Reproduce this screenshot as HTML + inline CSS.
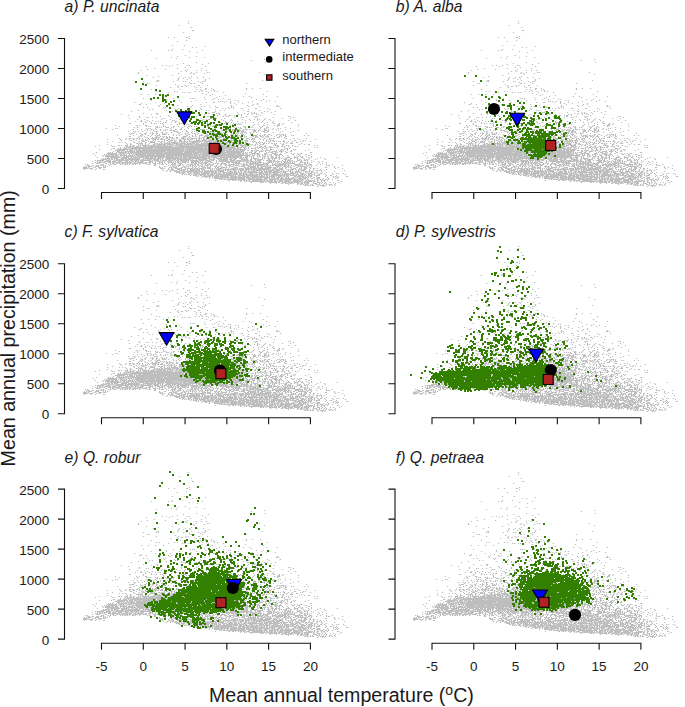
<!DOCTYPE html><html><head><meta charset="utf-8"><style>html,body{margin:0;padding:0;background:#fff;}svg{display:block;}text{font-family:"Liberation Sans", sans-serif;fill:#1a1a1a;}</style></head><body>
<svg width="685" height="707" viewBox="0 0 685 707">
<rect width="685" height="707" fill="#fff"/>
<defs><path id="g" d="M187.88 21.5h1.24m-1.24 2h1.24m-10.24 2h1.24m10.76 2h1.24m-0.24 3h2.24m-11.24 2h1.24m4.76 4h1.24m-22.24 1h1.24m4.76 0h1.24m10.76 0h2.24m0.76 1h1.24m-4.24 2h1.24m-10.24 1h1.24m-6.24 4h1.24m10.76 0h1.24m19.76 1h1.24m-14.24 1h1.24m2.76 0h1.24m-25.24 2h1.24m8.76 0h1.24m-32.24 1h1.24m15.76 0h1.24m1.76 0h1.24m29.76 0h1.24m-14.24 1h1.24m6.76 1h1.24m-13.24 3h1.24m-9.24 1h1.24m17.76 0h1.24m-26.24 1h1.24m16.76 0h1.24m13.76 0h1.24m-49.24 1h1.24m18.76 0h1.24m86.76 1h1.24m-14.24 1h1.24m-56.24 2h1.24m67.76 0h1.24m-83.24 1h1.24m23.76 0h1.24m-32.24 1h1.24m23.76 0h1.24m-41.24 1h1.24m2.76 0h1.24m4.76 0h1.24m13.76 0h1.24m0.76 0h1.24m-44.24 1h1.24m21.76 0h1.24m34.76 0h1.24m-21.24 1h1.24m3.76 0h1.24m-37.24 1h1.24m21.76 0h1.24m22.76 0h1.24m-55.24 1h1.24m16.76 0h1.24m20.76 0h1.24m-47.24 1h1.24m42.76 0h1.24m9.76 0h1.24m3.76 0h1.24m3.76 0h1.24m-26.24 1h1.24m3.76 0h1.24m-49.24 1h1.24m51.76 0h1.24m3.76 0h1.24m9.76 0h1.24m0.76 0h1.24m48.76 0h1.24m-122.24 1h1.24m38.76 0h1.24m10.76 0h1.24m1.76 0h1.24m9.76 0h1.24m-11.24 1h1.24m68.76 0h1.24m-119.24 1h1.24m24.76 0h1.24m-15.24 1h1.24m31.76 0h1.24m-39.24 1h1.24m24.76 0h1.24m4.76 0h1.24m2.76 0h1.24m6.76 0h1.24m4.76 0h1.24m-26.24 1h1.24m3.76 0h1.24m5.76 0h1.24m17.76 0h1.24m-32.24 1h1.24m7.76 0h1.24m16.76 0h1.24m-49.24 1h2.24m17.76 0h1.24m12.76 0h1.24m12.76 0h1.24m55.76 0h1.24m-120.24 1h1.24m11.76 0h1.24m0.76 0h1.24m13.76 0h1.24m8.76 0h1.24m0.76 0h1.24m11.76 0h1.24m2.76 0h1.24m0.76 0h1.24m-16.24 1h1.24m9.76 0h1.24m-54.24 1h1.24m0.76 0h1.24m39.76 0h2.24m1.76 0h1.24m6.76 0h1.24m42.76 0h1.24m-72.24 1h1.24m-33.24 1h1.24m11.76 0h1.24m20.76 0h1.24m5.76 0h1.24m1.76 0h1.24m8.76 0h2.24m6.76 0h1.24m-31.24 1h1.24m2.76 0h2.24m2.76 0h1.24m6.76 0h1.24m-25.24 1h1.24m6.76 0h1.24m16.76 0h1.24m2.76 0h1.24m3.76 1h2.24m3.76 0h1.24m33.76 0h1.24m4.76 0h1.24m6.76 0h1.24m-110.24 1h1.24m27.76 0h1.24m14.76 0h1.24m2.76 0h1.24m3.76 0h1.24m6.76 0h1.24m31.76 0h1.24m-46.24 1h1.24m8.76 0h1.24m1.76 0h1.24m-59.24 1h1.24m1.76 0h1.24m13.76 0h1.24m1.76 0h1.24m16.76 0h1.24m2.76 0h1.24m1.76 0h1.24m2.76 0h1.24m6.76 0h1.24m1.76 0h1.24m48.76 0h1.24m-100.24 1h1.24m12.76 0h1.24m0.76 0h1.24m2.76 0h1.24m0.76 0h1.24m16.76 0h1.24m13.76 0h1.24m-22.24 1h1.24m41.76 0h1.24m-105.24 1h1.24m5.76 0h1.24m5.76 0h1.24m6.76 0h1.24m41.76 0h1.24m4.76 0h1.24m49.76 0h1.24m-54.24 1h1.24m13.76 0h1.24m-7.24 1h1.24m22.76 0h1.24m4.76 0h1.24m15.76 0h1.24m9.76 0h1.24m-74.24 1h1.24m10.76 0h1.24m33.76 0h1.24m-109.24 1h1.24m28.76 0h1.24m15.76 0h1.24m0.76 0h1.24m0.76 0h1.24m18.76 0h1.24m7.76 0h1.24m-58.24 1h1.24m37.76 0h1.24m5.76 0h1.24m4.76 0h1.24m8.76 0h1.24m0.76 0h1.24m24.76 0h1.24m5.76 0h1.24m-113.24 1h1.24m13.76 0h1.24m11.76 0h1.24m15.76 0h1.24m37.76 0h1.24m1.76 0h1.24m21.76 0h1.24m6.76 0h1.24m-79.24 1h1.24m25.76 0h1.24m0.76 0h1.24m0.76 0h1.24m2.76 0h1.24m2.76 0h1.24m20.76 0h1.24m12.76 0h1.24m7.76 0h1.24m-142.24 1h1.24m19.76 0h1.24m13.76 0h1.24m9.76 0h1.24m23.76 0h1.24m5.76 0h2.24m8.76 0h1.24m4.76 0h1.24m6.76 0h1.24m8.76 0h1.24m-108.24 1h1.24m21.76 0h1.24m64.76 0h1.24m2.76 0h1.24m6.76 0h1.24m13.76 0h1.24m-119.24 1h2.24m4.76 0h1.24m12.76 0h1.24m6.76 0h1.24m1.76 0h1.24m27.76 0h1.24m34.76 0h1.24m15.76 0h1.24m2.76 0h1.24m-100.24 1h1.24m9.76 0h1.24m6.76 0h1.24m13.76 0h1.24m15.76 0h1.24m20.76 0h1.24m14.76 0h1.24m3.76 0h1.24m23.76 0h1.24m-119.24 1h1.24m26.76 0h1.24m2.76 0h1.24m8.76 0h1.24m1.76 0h1.24m9.76 0h1.24m14.76 0h1.24m0.76 0h1.24m13.76 0h1.24m9.76 0h1.24m15.76 0h2.24m0.76 0h1.24m-137.24 1h1.24m2.76 0h1.24m14.76 0h1.24m0.76 0h1.24m23.76 0h1.24m18.76 0h1.24m4.76 0h2.24m9.76 0h1.24m1.76 0h1.24m-68.24 1h1.24m8.76 0h1.24m2.76 0h1.24m9.76 0h1.24m9.76 0h1.24m20.76 0h1.24m1.76 0h1.24m2.76 0h1.24m2.76 0h1.24m6.76 0h2.24m11.76 0h2.24m9.76 0h1.24m11.76 0h1.24m-132.24 1h1.24m1.76 0h1.24m21.76 0h1.24m0.76 0h1.24m22.76 0h1.24m12.76 0h1.24m31.76 0h1.24m19.76 0h1.24m-132.24 1h1.24m26.76 0h1.24m13.76 0h1.24m4.76 0h1.24m10.76 0h1.24m5.76 0h1.24m0.76 0h1.24m10.76 0h1.24m2.76 0h1.24m17.76 0h1.24m14.76 0h1.24m-129.24 1h1.24m39.76 0h1.24m7.76 0h1.24m0.76 0h1.24m0.76 0h1.24m9.76 0h1.24m17.76 0h1.24m30.76 0h2.24m14.76 0h1.24m1.76 0h1.24m6.76 0h1.24m-91.24 1h1.24m1.76 0h1.24m16.76 0h1.24m4.76 0h3.24m21.76 0h1.24m12.76 0h1.24m1.76 0h1.24m5.76 0h1.24m8.76 0h1.24m-129.24 1h1.24m11.76 0h2.24m18.76 0h1.24m2.76 0h1.24m6.76 0h1.24m3.76 0h1.24m12.76 0h2.24m5.76 0h1.24m0.76 0h2.24m23.76 0h1.24m2.76 0h1.24m2.76 0h1.24m0.76 0h1.24m0.76 0h1.24m4.76 0h1.24m-142.24 1h1.24m28.76 0h1.24m4.76 0h1.24m41.76 0h1.24m2.76 0h1.24m6.76 0h1.24m5.76 0h1.24m4.76 0h1.24m11.76 0h1.24m1.76 0h1.24m4.76 0h1.24m3.76 0h1.24m2.76 0h1.24m0.76 0h1.24m14.76 0h1.24m-147.24 1h1.24m38.76 0h1.24m28.76 0h1.24m17.76 0h1.24m6.76 0h1.24m2.76 0h2.24m2.76 0h1.24m0.76 0h2.24m2.76 0h1.24m17.76 0h1.24m-122.24 1h1.24m19.76 0h1.24m7.76 0h1.24m10.76 0h1.24m13.76 0h1.24m9.76 0h2.24m13.76 0h1.24m1.76 0h1.24m0.76 0h1.24m6.76 0h2.24m7.76 0h1.24m6.76 0h1.24m0.76 0h2.24m29.76 0h1.24m0.76 0h1.24m-152.24 1h1.24m5.76 0h1.24m0.76 0h1.24m2.76 0h1.24m2.76 0h1.24m13.76 0h1.24m8.76 0h1.24m11.76 0h1.24m18.76 0h1.24m18.76 0h1.24m5.76 0h1.24m0.76 0h1.24m10.76 0h1.24m16.76 0h1.24m18.76 0h1.24m-165.24 1h1.24m31.76 0h1.24m0.76 0h1.24m10.76 0h1.24m7.76 0h1.24m2.76 0h1.24m5.76 0h1.24m3.76 0h1.24m7.76 0h2.24m3.76 0h1.24m6.76 0h1.24m31.76 0h1.24m6.76 0h1.24m15.76 0h1.24m6.76 0h1.24m-154.24 1h1.24m5.76 0h1.24m15.76 0h1.24m7.76 0h1.24m7.76 0h1.24m3.76 0h1.24m17.76 0h1.24m1.76 0h1.24m0.76 0h2.24m10.76 0h1.24m8.76 0h1.24m9.76 0h1.24m5.76 0h1.24m3.76 0h1.24m1.76 0h1.24m0.76 0h1.24m3.76 0h1.24m3.76 0h1.24m-129.24 1h1.24m4.76 0h1.24m3.76 0h1.24m12.76 0h1.24m4.76 0h1.24m0.76 0h1.24m8.76 0h1.24m4.76 0h1.24m9.76 0h2.24m11.76 0h1.24m6.76 0h1.24m5.76 0h1.24m0.76 0h1.24m11.76 0h1.24m3.76 0h1.24m5.76 0h1.24m4.76 0h1.24m5.76 0h1.24m16.76 0h1.24m5.76 0h1.24m-161.24 1h1.24m3.76 0h2.24m2.76 0h1.24m2.76 0h1.24m4.76 0h1.24m1.76 0h1.24m0.76 0h1.24m13.76 0h2.24m22.76 0h1.24m0.76 0h2.24m1.76 0h1.24m17.76 0h1.24m10.76 0h1.24m23.76 0h1.24m9.76 0h1.24m-129.24 1h1.24m4.76 0h1.24m10.76 0h1.24m0.76 0h2.24m3.76 0h1.24m2.76 0h1.24m2.76 0h1.24m4.76 0h1.24m13.76 0h1.24m0.76 0h1.24m3.76 0h1.24m3.76 0h1.24m5.76 0h2.24m3.76 0h4.24m1.76 0h1.24m9.76 0h1.24m1.76 0h1.24m6.76 0h1.24m3.76 0h1.24m1.76 0h1.24m4.76 0h1.24m3.76 0h1.24m17.76 0h1.24m-163.24 1h2.24m11.76 0h1.24m6.76 0h1.24m1.76 0h1.24m0.76 0h1.24m2.76 0h1.24m0.76 0h1.24m15.76 0h1.24m0.76 0h1.24m0.76 0h3.24m3.76 0h2.24m1.76 0h1.24m2.76 0h1.24m1.76 0h1.24m4.76 0h1.24m0.76 0h1.24m13.76 0h1.24m0.76 0h1.24m5.76 0h1.24m0.76 0h1.24m1.76 0h1.24m0.76 0h1.24m22.76 0h1.24m7.76 0h2.24m3.76 0h1.24m2.76 0h1.24m-141.24 1h1.24m18.76 0h1.24m6.76 0h1.24m4.76 0h1.24m0.76 0h1.24m5.76 0h1.24m0.76 0h1.24m7.76 0h2.24m3.76 0h1.24m10.76 0h1.24m1.76 0h1.24m2.76 0h1.24m2.76 0h1.24m4.76 0h1.24m3.76 0h1.24m0.76 0h1.24m0.76 0h1.24m11.76 0h1.24m2.76 0h1.24m7.76 0h1.24m9.76 0h2.24m1.76 0h1.24m14.76 0h1.24m-184.24 1h1.24m19.76 0h1.24m1.76 0h1.24m4.76 0h2.24m15.76 0h1.24m25.76 0h1.24m11.76 0h1.24m0.76 0h1.24m3.76 0h1.24m2.76 0h1.24m1.76 0h4.24m8.76 0h1.24m1.76 0h1.24m18.76 0h1.24m8.76 0h2.24m8.76 0h1.24m1.76 0h3.24m-161.24 1h1.24m16.76 0h1.24m7.76 0h1.24m0.76 0h1.24m0.76 0h1.24m3.76 0h1.24m0.76 0h1.24m4.76 0h1.24m0.76 0h1.24m6.76 0h2.24m2.76 0h1.24m4.76 0h1.24m2.76 0h2.24m0.76 0h1.24m1.76 0h1.24m0.76 0h1.24m7.76 0h1.24m0.76 0h2.24m2.76 0h2.24m14.76 0h1.24m12.76 0h1.24m0.76 0h1.24m5.76 0h1.24m5.76 0h1.24m1.76 0h1.24m3.76 0h1.24m8.76 0h1.24m19.76 0h1.24m-165.24 1h1.24m1.76 0h1.24m17.76 0h2.24m0.76 0h1.24m0.76 0h1.24m3.76 0h3.24m1.76 0h1.24m0.76 0h1.24m7.76 0h1.24m3.76 0h1.24m8.76 0h1.24m5.76 0h1.24m2.76 0h1.24m6.76 0h1.24m5.76 0h1.24m3.76 0h1.24m4.76 0h1.24m0.76 0h1.24m0.76 0h1.24m0.76 0h1.24m2.76 0h2.24m2.76 0h1.24m0.76 0h1.24m7.76 0h2.24m3.76 0h1.24m0.76 0h1.24m15.76 0h1.24m-180.24 1h1.24m7.76 0h1.24m0.76 0h1.24m27.76 0h1.24m0.76 0h1.24m0.76 0h1.24m3.76 0h1.24m13.76 0h1.24m9.76 0h1.24m5.76 0h1.24m6.76 0h1.24m10.76 0h1.24m1.76 0h1.24m2.76 0h1.24m3.76 0h2.24m0.76 0h1.24m0.76 0h2.24m0.76 0h1.24m0.76 0h1.24m8.76 0h2.24m2.76 0h1.24m13.76 0h1.24m2.76 0h1.24m0.76 0h1.24m5.76 0h1.24m3.76 0h1.24m0.76 0h1.24m8.76 0h1.24m-179.24 1h1.24m19.76 0h1.24m2.76 0h1.24m2.76 0h1.24m4.76 0h1.24m2.76 0h1.24m0.76 0h1.24m1.76 0h1.24m2.76 0h1.24m3.76 0h1.24m0.76 0h1.24m2.76 0h1.24m2.76 0h2.24m2.76 0h2.24m1.76 0h1.24m6.76 0h3.24m4.76 0h5.24m0.76 0h1.24m4.76 0h2.24m6.76 0h1.24m1.76 0h1.24m0.76 0h3.24m2.76 0h1.24m0.76 0h1.24m1.76 0h3.24m2.76 0h1.24m0.76 0h3.24m0.76 0h1.24m1.76 0h1.24m0.76 0h1.24m3.76 0h1.24m3.76 0h2.24m1.76 0h1.24m2.76 0h1.24m2.76 0h1.24m7.76 0h1.24m-142.24 1h1.24m1.76 0h1.24m1.76 0h1.24m1.76 0h1.24m5.76 0h1.24m1.76 0h1.24m0.76 0h1.24m3.76 0h2.24m0.76 0h2.24m10.76 0h1.24m8.76 0h2.24m3.76 0h1.24m0.76 0h1.24m11.76 0h1.24m3.76 0h1.24m1.76 0h2.24m0.76 0h1.24m2.76 0h2.24m1.76 0h2.24m0.76 0h2.24m0.76 0h2.24m8.76 0h3.24m1.76 0h1.24m0.76 0h1.24m2.76 0h3.24m0.76 0h1.24m8.76 0h1.24m18.76 0h1.24m-171.24 1h1.24m3.76 0h1.24m0.76 0h1.24m1.76 0h1.24m2.76 0h1.24m10.76 0h1.24m0.76 0h2.24m15.76 0h4.24m3.76 0h1.24m2.76 0h2.24m3.76 0h1.24m0.76 0h1.24m0.76 0h1.24m5.76 0h1.24m1.76 0h1.24m0.76 0h1.24m0.76 0h2.24m5.76 0h1.24m1.76 0h1.24m3.76 0h2.24m1.76 0h3.24m4.76 0h2.24m0.76 0h3.24m0.76 0h1.24m6.76 0h3.24m1.76 0h1.24m2.76 0h3.24m1.76 0h2.24m12.76 0h1.24m9.76 0h1.24m-160.24 1h1.24m10.76 0h1.24m4.76 0h1.24m2.76 0h1.24m3.76 0h2.24m2.76 0h1.24m3.76 0h1.24m4.76 0h2.24m0.76 0h1.24m6.76 0h1.24m1.76 0h1.24m4.76 0h1.24m4.76 0h3.24m1.76 0h3.24m0.76 0h3.24m2.76 0h3.24m1.76 0h2.24m0.76 0h1.24m5.76 0h3.24m0.76 0h2.24m1.76 0h2.24m0.76 0h2.24m3.76 0h1.24m1.76 0h1.24m1.76 0h1.24m6.76 0h1.24m0.76 0h1.24m5.76 0h1.24m5.76 0h1.24m8.76 0h1.24m-162.24 1h1.24m0.76 0h3.24m5.76 0h1.24m2.76 0h2.24m3.76 0h1.24m0.76 0h2.24m1.76 0h2.24m3.76 0h1.24m0.76 0h1.24m0.76 0h1.24m11.76 0h1.24m4.76 0h1.24m0.76 0h1.24m3.76 0h1.24m0.76 0h2.24m1.76 0h1.24m3.76 0h1.24m1.76 0h1.24m1.76 0h1.24m0.76 0h4.24m0.76 0h2.24m0.76 0h4.24m0.76 0h1.24m5.76 0h1.24m1.76 0h1.24m0.76 0h1.24m0.76 0h1.24m0.76 0h1.24m0.76 0h1.24m2.76 0h1.24m2.76 0h1.24m0.76 0h1.24m6.76 0h1.24m44.76 0h1.24m-177.24 1h1.24m4.76 0h1.24m3.76 0h2.24m1.76 0h1.24m5.76 0h1.24m2.76 0h1.24m1.76 0h1.24m1.76 0h4.24m1.76 0h1.24m3.76 0h1.24m3.76 0h1.24m1.76 0h1.24m2.76 0h1.24m1.76 0h2.24m4.76 0h1.24m0.76 0h1.24m2.76 0h1.24m4.76 0h1.24m0.76 0h1.24m0.76 0h1.24m0.76 0h1.24m0.76 0h2.24m1.76 0h1.24m0.76 0h2.24m1.76 0h3.24m2.76 0h3.24m0.76 0h1.24m0.76 0h1.24m2.76 0h3.24m6.76 0h1.24m4.76 0h1.24m5.76 0h2.24m1.76 0h2.24m6.76 0h1.24m0.76 0h1.24m0.76 0h3.24m0.76 0h1.24m-169.24 1h1.24m14.76 0h1.24m5.76 0h1.24m0.76 0h1.24m4.76 0h1.24m1.76 0h1.24m2.76 0h1.24m0.76 0h3.24m12.76 0h1.24m1.76 0h1.24m1.76 0h1.24m5.76 0h2.24m3.76 0h1.24m1.76 0h1.24m2.76 0h4.24m1.76 0h4.24m1.76 0h2.24m0.76 0h3.24m1.76 0h1.24m0.76 0h2.24m0.76 0h1.24m1.76 0h1.24m1.76 0h1.24m1.76 0h1.24m0.76 0h3.24m0.76 0h1.24m1.76 0h1.24m0.76 0h1.24m5.76 0h1.24m0.76 0h4.24m1.76 0h2.24m0.76 0h1.24m0.76 0h1.24m1.76 0h1.24m2.76 0h1.24m3.76 0h1.24m2.76 0h1.24m1.76 0h1.24m0.76 0h1.24m4.76 0h1.24m0.76 0h1.24m9.76 0h1.24m2.76 0h1.24m-180.24 1h2.24m7.76 0h1.24m0.76 0h1.24m1.76 0h1.24m4.76 0h1.24m4.76 0h2.24m1.76 0h1.24m0.76 0h1.24m0.76 0h1.24m0.76 0h1.24m1.76 0h1.24m12.76 0h4.24m1.76 0h1.24m1.76 0h2.24m1.76 0h1.24m1.76 0h1.24m3.76 0h4.24m0.76 0h3.24m0.76 0h1.24m0.76 0h2.24m0.76 0h4.24m0.76 0h2.24m2.76 0h1.24m1.76 0h7.24m1.76 0h1.24m2.76 0h1.24m0.76 0h1.24m4.76 0h2.24m0.76 0h3.24m1.76 0h2.24m0.76 0h1.24m1.76 0h3.24m4.76 0h1.24m3.76 0h1.24m0.76 0h1.24m2.76 0h2.24m-149.24 1h1.24m5.76 0h1.24m0.76 0h1.24m3.76 0h1.24m1.76 0h2.24m0.76 0h2.24m2.76 0h1.24m1.76 0h2.24m0.76 0h4.24m2.76 0h2.24m3.76 0h3.24m2.76 0h1.24m0.76 0h1.24m3.76 0h1.24m2.76 0h1.24m1.76 0h3.24m1.76 0h7.24m0.76 0h2.24m0.76 0h4.24m0.76 0h1.24m0.76 0h1.24m1.76 0h4.24m0.76 0h1.24m0.76 0h1.24m3.76 0h2.24m2.76 0h1.24m3.76 0h1.24m3.76 0h1.24m0.76 0h1.24m3.76 0h1.24m1.76 0h1.24m1.76 0h1.24m7.76 0h3.24m3.76 0h1.24m-166.24 1h1.24m5.76 0h1.24m1.76 0h2.24m0.76 0h2.24m1.76 0h2.24m0.76 0h1.24m1.76 0h1.24m4.76 0h1.24m1.76 0h6.24m0.76 0h1.24m1.76 0h2.24m2.76 0h2.24m0.76 0h1.24m1.76 0h2.24m1.76 0h2.24m2.76 0h3.24m0.76 0h1.24m0.76 0h1.24m0.76 0h1.24m0.76 0h4.24m0.76 0h1.24m0.76 0h2.24m0.76 0h1.24m0.76 0h1.24m1.76 0h1.24m0.76 0h2.24m1.76 0h1.24m1.76 0h1.24m1.76 0h2.24m2.76 0h6.24m0.76 0h2.24m2.76 0h4.24m2.76 0h2.24m1.76 0h3.24m2.76 0h3.24m3.76 0h1.24m3.76 0h1.24m3.76 0h1.24m0.76 0h1.24m0.76 0h2.24m9.76 0h2.24m6.76 0h1.24m1.76 0h1.24m7.76 0h1.24m-200.24 1h1.24m11.76 0h1.24m3.76 0h1.24m2.76 0h1.24m2.76 0h2.24m3.76 0h1.24m1.76 0h1.24m1.76 0h1.24m0.76 0h1.24m0.76 0h1.24m1.76 0h1.24m0.76 0h2.24m0.76 0h2.24m0.76 0h3.24m0.76 0h1.24m2.76 0h2.24m0.76 0h1.24m1.76 0h1.24m3.76 0h2.24m1.76 0h3.24m0.76 0h2.24m0.76 0h3.24m2.76 0h1.24m1.76 0h1.24m2.76 0h2.24m0.76 0h1.24m1.76 0h1.24m0.76 0h4.24m0.76 0h2.24m1.76 0h3.24m0.76 0h1.24m0.76 0h2.24m2.76 0h1.24m0.76 0h1.24m0.76 0h2.24m1.76 0h1.24m0.76 0h1.24m3.76 0h1.24m1.76 0h1.24m0.76 0h2.24m0.76 0h1.24m4.76 0h1.24m1.76 0h1.24m1.76 0h1.24m1.76 0h2.24m18.76 0h1.24m7.76 0h1.24m14.76 0h1.24m-195.24 1h1.24m7.76 0h2.24m3.76 0h1.24m3.76 0h1.24m0.76 0h1.24m0.76 0h2.24m5.76 0h1.24m0.76 0h1.24m7.76 0h1.24m0.76 0h2.24m1.76 0h3.24m0.76 0h1.24m0.76 0h1.24m1.76 0h3.24m1.76 0h1.24m2.76 0h2.24m3.76 0h1.24m0.76 0h4.24m0.76 0h6.24m0.76 0h6.24m0.76 0h2.24m0.76 0h6.24m0.76 0h2.24m2.76 0h4.24m1.76 0h2.24m0.76 0h4.24m0.76 0h4.24m4.76 0h1.24m8.76 0h1.24m1.76 0h1.24m2.76 0h1.24m0.76 0h2.24m8.76 0h1.24m9.76 0h2.24m6.76 0h1.24m0.76 0h1.24m-194.24 1h1.24m19.76 0h1.24m4.76 0h1.24m1.76 0h3.24m2.76 0h1.24m0.76 0h3.24m0.76 0h1.24m2.76 0h2.24m0.76 0h2.24m0.76 0h1.24m2.76 0h2.24m0.76 0h1.24m1.76 0h2.24m2.76 0h4.24m0.76 0h2.24m0.76 0h1.24m0.76 0h12.24m0.76 0h1.24m0.76 0h8.24m0.76 0h8.24m0.76 0h2.24m0.76 0h1.24m0.76 0h2.24m1.76 0h1.24m1.76 0h7.24m0.76 0h1.24m1.76 0h1.24m0.76 0h1.24m1.76 0h1.24m0.76 0h1.24m0.76 0h2.24m2.76 0h1.24m5.76 0h1.24m0.76 0h1.24m0.76 0h1.24m1.76 0h2.24m0.76 0h1.24m0.76 0h1.24m0.76 0h1.24m1.76 0h2.24m2.76 0h1.24m2.76 0h1.24m6.76 0h1.24m0.76 0h1.24m6.76 0h1.24m-204.24 1h1.24m10.76 0h1.24m1.76 0h1.24m1.76 0h1.24m7.76 0h1.24m2.76 0h1.24m1.76 0h1.24m2.76 0h2.24m2.76 0h5.24m4.76 0h2.24m1.76 0h1.24m1.76 0h1.24m0.76 0h1.24m0.76 0h7.24m0.76 0h1.24m0.76 0h1.24m0.76 0h2.24m0.76 0h2.24m1.76 0h1.24m0.76 0h6.24m0.76 0h1.24m0.76 0h1.24m1.76 0h1.24m0.76 0h2.24m0.76 0h11.24m0.76 0h4.24m0.76 0h4.24m0.76 0h2.24m0.76 0h1.24m1.76 0h1.24m0.76 0h1.24m0.76 0h1.24m0.76 0h1.24m0.76 0h2.24m5.76 0h1.24m1.76 0h1.24m0.76 0h1.24m0.76 0h1.24m0.76 0h1.24m0.76 0h1.24m3.76 0h1.24m13.76 0h1.24m1.76 0h1.24m2.76 0h1.24m3.76 0h2.24m-172.24 1h1.24m2.76 0h1.24m4.76 0h2.24m0.76 0h4.24m1.76 0h1.24m2.76 0h1.24m3.76 0h1.24m0.76 0h2.24m0.76 0h1.24m0.76 0h2.24m0.76 0h7.24m0.76 0h7.24m0.76 0h6.24m0.76 0h8.24m0.76 0h3.24m1.76 0h7.24m0.76 0h6.24m0.76 0h1.24m0.76 0h1.24m0.76 0h8.24m0.76 0h2.24m0.76 0h9.24m3.76 0h2.24m0.76 0h2.24m5.76 0h1.24m1.76 0h1.24m2.76 0h2.24m0.76 0h1.24m0.76 0h1.24m1.76 0h2.24m0.76 0h1.24m0.76 0h1.24m2.76 0h1.24m1.76 0h1.24m1.76 0h1.24m2.76 0h3.24m7.76 0h1.24m-195.24 1h1.24m18.76 0h1.24m1.76 0h2.24m5.76 0h1.24m0.76 0h1.24m0.76 0h1.24m1.76 0h1.24m1.76 0h1.24m3.76 0h3.24m0.76 0h9.24m0.76 0h6.24m0.76 0h1.24m0.76 0h7.24m0.76 0h9.24m0.76 0h15.24m0.76 0h1.24m0.76 0h2.24m0.76 0h7.24m0.76 0h1.24m0.76 0h2.24m0.76 0h3.24m0.76 0h3.24m0.76 0h1.24m0.76 0h4.24m1.76 0h2.24m1.76 0h3.24m0.76 0h1.24m1.76 0h1.24m0.76 0h1.24m1.76 0h1.24m0.76 0h2.24m9.76 0h2.24m5.76 0h2.24m14.76 0h1.24m3.76 0h1.24m2.76 0h2.24m-211.24 1h1.24m10.76 0h1.24m5.76 0h2.24m0.76 0h1.24m2.76 0h3.24m1.76 0h1.24m1.76 0h2.24m2.76 0h1.24m0.76 0h1.24m0.76 0h7.24m0.76 0h5.24m0.76 0h6.24m0.76 0h3.24m0.76 0h1.24m0.76 0h2.24m0.76 0h2.24m0.76 0h3.24m0.76 0h6.24m0.76 0h3.24m0.76 0h4.24m0.76 0h18.24m0.76 0h11.24m0.76 0h1.24m0.76 0h7.24m0.76 0h3.24m0.76 0h6.24m4.76 0h1.24m1.76 0h2.24m2.76 0h1.24m4.76 0h1.24m6.76 0h1.24m0.76 0h3.24m3.76 0h1.24m2.76 0h1.24m0.76 0h1.24m2.76 0h1.24m20.76 0h1.24m1.76 0h1.24m-223.24 1h1.24m15.76 0h1.24m0.76 0h1.24m9.76 0h1.24m0.76 0h1.24m0.76 0h5.24m1.76 0h3.24m0.76 0h1.24m1.76 0h4.24m0.76 0h25.24m1.76 0h2.24m0.76 0h52.24m0.76 0h6.24m3.76 0h3.24m0.76 0h2.24m1.76 0h1.24m6.76 0h1.24m1.76 0h2.24m1.76 0h2.24m2.76 0h2.24m5.76 0h2.24m1.76 0h2.24m0.76 0h1.24m2.76 0h1.24m5.76 0h1.24m0.76 0h1.24m-178.24 1h1.24m2.76 0h1.24m0.76 0h5.24m0.76 0h71.24m0.76 0h3.24m0.76 0h27.24m1.76 0h5.24m0.76 0h3.24m1.76 0h1.24m5.76 0h1.24m0.76 0h1.24m0.76 0h2.24m0.76 0h2.24m0.76 0h1.24m0.76 0h1.24m1.76 0h3.24m0.76 0h1.24m0.76 0h2.24m5.76 0h1.24m4.76 0h1.24m23.76 0h1.24m0.76 0h1.24m-205.24 1h2.24m2.76 0h1.24m0.76 0h1.24m1.76 0h4.24m0.76 0h1.24m0.76 0h23.24m0.76 0h2.24m0.76 0h27.24m0.76 0h51.24m0.76 0h2.24m0.76 0h1.24m2.76 0h1.24m0.76 0h1.24m0.76 0h1.24m1.76 0h3.24m0.76 0h1.24m1.76 0h1.24m1.76 0h1.24m1.76 0h1.24m0.76 0h1.24m2.76 0h1.24m13.76 0h3.24m0.76 0h1.24m-191.24 1h1.24m10.76 0h1.24m4.76 0h11.24m0.76 0h4.24m0.76 0h3.24m0.76 0h3.24m0.76 0h44.24m0.76 0h38.24m0.76 0h1.24m0.76 0h4.24m0.76 0h13.24m8.76 0h1.24m5.76 0h1.24m2.76 0h1.24m2.76 0h2.24m0.76 0h1.24m3.76 0h1.24m1.76 0h2.24m0.76 0h1.24m1.76 0h1.24m4.76 0h1.24m0.76 0h1.24m11.76 0h1.24m-194.24 1h10.24m1.76 0h1.24m0.76 0h4.24m0.76 0h1.24m0.76 0h48.24m0.76 0h35.24m0.76 0h14.24m0.76 0h3.24m0.76 0h5.24m1.76 0h2.24m1.76 0h2.24m0.76 0h1.24m0.76 0h3.24m1.76 0h1.24m0.76 0h1.24m0.76 0h4.24m0.76 0h1.24m4.76 0h1.24m2.76 0h2.24m0.76 0h1.24m2.76 0h1.24m2.76 0h1.24m1.76 0h1.24m9.76 0h1.24m-193.24 1h1.24m2.76 0h3.24m0.76 0h1.24m0.76 0h1.24m0.76 0h10.24m0.76 0h30.24m0.76 0h29.24m0.76 0h20.24m0.76 0h7.24m0.76 0h18.24m6.76 0h2.24m1.76 0h2.24m1.76 0h4.24m1.76 0h1.24m2.76 0h1.24m1.76 0h5.24m1.76 0h4.24m1.76 0h1.24m3.76 0h2.24m-196.24 1h1.24m10.76 0h1.24m0.76 0h1.24m0.76 0h1.24m2.76 0h1.24m0.76 0h9.24m0.76 0h1.24m0.76 0h33.24m0.76 0h19.24m0.76 0h58.24m0.76 0h1.24m0.76 0h1.24m0.76 0h1.24m0.76 0h3.24m1.76 0h2.24m2.76 0h1.24m5.76 0h1.24m0.76 0h1.24m0.76 0h3.24m1.76 0h1.24m0.76 0h1.24m2.76 0h1.24m3.76 0h2.24m21.76 0h2.24m-219.24 1h1.24m12.76 0h10.24m1.76 0h5.24m0.76 0h1.24m0.76 0h5.24m0.76 0h1.24m0.76 0h57.24m0.76 0h6.24m0.76 0h1.24m0.76 0h24.24m0.76 0h14.24m0.76 0h2.24m0.76 0h2.24m3.76 0h8.24m4.76 0h3.24m4.76 0h5.24m2.76 0h1.24m3.76 0h1.24m4.76 0h1.24m1.76 0h1.24m1.76 0h1.24m1.76 0h2.24m-198.24 1h1.24m0.76 0h1.24m0.76 0h9.24m0.76 0h1.24m0.76 0h2.24m0.76 0h2.24m0.76 0h1.24m1.76 0h1.24m1.76 0h2.24m0.76 0h11.24m0.76 0h8.24m0.76 0h41.24m0.76 0h38.24m0.76 0h7.24m1.76 0h2.24m0.76 0h2.24m0.76 0h1.24m0.76 0h1.24m1.76 0h3.24m1.76 0h1.24m0.76 0h2.24m0.76 0h1.24m0.76 0h1.24m0.76 0h1.24m1.76 0h4.24m0.76 0h3.24m9.76 0h2.24m3.76 0h2.24m4.76 0h2.24m3.76 0h1.24m-217.24 1h1.24m5.76 0h1.24m1.76 0h5.24m0.76 0h3.24m0.76 0h3.24m1.76 0h7.24m0.76 0h5.24m0.76 0h1.24m0.76 0h29.24m0.76 0h27.24m0.76 0h6.24m0.76 0h9.24m0.76 0h39.24m1.76 0h3.24m1.76 0h1.24m0.76 0h1.24m1.76 0h1.24m1.76 0h1.24m3.76 0h2.24m2.76 0h2.24m0.76 0h2.24m1.76 0h1.24m3.76 0h1.24m7.76 0h1.24m1.76 0h1.24m7.76 0h2.24m-207.24 1h1.24m0.76 0h14.24m0.76 0h1.24m1.76 0h2.24m0.76 0h10.24m0.76 0h37.24m0.76 0h2.24m0.76 0h4.24m0.76 0h15.24m0.76 0h26.24m0.76 0h16.24m2.76 0h3.24m0.76 0h1.24m0.76 0h1.24m0.76 0h1.24m2.76 0h1.24m0.76 0h2.24m1.76 0h3.24m0.76 0h2.24m1.76 0h2.24m2.76 0h1.24m1.76 0h1.24m2.76 0h1.24m3.76 0h1.24m4.76 0h1.24m2.76 0h1.24m0.76 0h1.24m0.76 0h1.24m2.76 0h1.24m3.76 0h1.24m-215.24 1h1.24m8.76 0h2.24m0.76 0h10.24m0.76 0h8.24m1.76 0h1.24m0.76 0h1.24m0.76 0h3.24m0.76 0h5.24m0.76 0h4.24m0.76 0h3.24m0.76 0h2.24m0.76 0h7.24m0.76 0h14.24m0.76 0h7.24m0.76 0h19.24m0.76 0h2.24m0.76 0h6.24m0.76 0h1.24m0.76 0h19.24m0.76 0h2.24m0.76 0h1.24m0.76 0h3.24m2.76 0h1.24m0.76 0h1.24m3.76 0h1.24m2.76 0h1.24m0.76 0h1.24m2.76 0h1.24m1.76 0h3.24m0.76 0h2.24m0.76 0h2.24m5.76 0h4.24m3.76 0h4.24m2.76 0h2.24m4.76 0h1.24m1.76 0h1.24m7.76 0h1.24m15.76 0h1.24m-235.24 1h1.24m0.76 0h5.24m0.76 0h2.24m0.76 0h4.24m2.76 0h6.24m0.76 0h12.24m2.76 0h13.24m0.76 0h4.24m0.76 0h2.24m1.76 0h16.24m0.76 0h18.24m0.76 0h9.24m1.76 0h2.24m0.76 0h6.24m0.76 0h5.24m1.76 0h3.24m0.76 0h3.24m1.76 0h4.24m0.76 0h1.24m0.76 0h2.24m2.76 0h1.24m0.76 0h5.24m3.76 0h1.24m0.76 0h1.24m1.76 0h2.24m0.76 0h1.24m0.76 0h1.24m0.76 0h3.24m1.76 0h1.24m0.76 0h1.24m0.76 0h1.24m0.76 0h2.24m2.76 0h2.24m1.76 0h1.24m1.76 0h1.24m4.76 0h1.24m4.76 0h1.24m6.76 0h1.24m5.76 0h1.24m-224.24 1h6.24m0.76 0h2.24m0.76 0h2.24m0.76 0h1.24m0.76 0h8.24m0.76 0h15.24m0.76 0h3.24m0.76 0h1.24m0.76 0h5.24m0.76 0h6.24m0.76 0h1.24m0.76 0h1.24m1.76 0h6.24m0.76 0h4.24m0.76 0h14.24m0.76 0h1.24m2.76 0h1.24m0.76 0h9.24m1.76 0h6.24m2.76 0h10.24m0.76 0h3.24m0.76 0h3.24m4.76 0h7.24m1.76 0h2.24m1.76 0h2.24m0.76 0h6.24m4.76 0h2.24m1.76 0h1.24m0.76 0h1.24m3.76 0h1.24m3.76 0h3.24m0.76 0h1.24m0.76 0h1.24m5.76 0h1.24m0.76 0h2.24m2.76 0h1.24m0.76 0h1.24m0.76 0h1.24m5.76 0h1.24m8.76 0h1.24m-231.24 1h1.24m0.76 0h7.24m1.76 0h5.24m1.76 0h1.24m0.76 0h14.24m0.76 0h3.24m0.76 0h5.24m0.76 0h11.24m0.76 0h1.24m0.76 0h5.24m0.76 0h1.24m0.76 0h5.24m0.76 0h5.24m0.76 0h1.24m0.76 0h3.24m0.76 0h9.24m0.76 0h8.24m0.76 0h5.24m0.76 0h5.24m0.76 0h3.24m1.76 0h1.24m1.76 0h9.24m1.76 0h5.24m0.76 0h6.24m0.76 0h6.24m0.76 0h2.24m2.76 0h1.24m0.76 0h4.24m1.76 0h1.24m1.76 0h6.24m0.76 0h2.24m1.76 0h1.24m3.76 0h1.24m1.76 0h1.24m0.76 0h4.24m0.76 0h1.24m3.76 0h3.24m0.76 0h1.24m1.76 0h2.24m0.76 0h1.24m2.76 0h1.24m-220.24 1h1.24m3.76 0h1.24m0.76 0h2.24m0.76 0h1.24m0.76 0h7.24m0.76 0h4.24m1.76 0h4.24m2.76 0h3.24m0.76 0h1.24m0.76 0h3.24m0.76 0h2.24m0.76 0h1.24m0.76 0h4.24m4.76 0h4.24m1.76 0h1.24m0.76 0h3.24m0.76 0h2.24m0.76 0h1.24m1.76 0h2.24m0.76 0h2.24m0.76 0h1.24m0.76 0h1.24m0.76 0h3.24m0.76 0h6.24m0.76 0h1.24m1.76 0h8.24m0.76 0h1.24m0.76 0h1.24m1.76 0h1.24m0.76 0h4.24m4.76 0h1.24m0.76 0h1.24m0.76 0h14.24m0.76 0h2.24m0.76 0h7.24m0.76 0h2.24m0.76 0h5.24m0.76 0h2.24m0.76 0h3.24m6.76 0h4.24m0.76 0h4.24m0.76 0h2.24m0.76 0h1.24m0.76 0h3.24m0.76 0h1.24m0.76 0h2.24m0.76 0h1.24m0.76 0h1.24m0.76 0h1.24m2.76 0h2.24m4.76 0h1.24m4.76 0h1.24m3.76 0h1.24m2.76 0h1.24m-228.24 1h1.24m0.76 0h1.24m0.76 0h3.24m0.76 0h2.24m2.76 0h3.24m0.76 0h8.24m0.76 0h11.24m1.76 0h2.24m0.76 0h6.24m1.76 0h2.24m0.76 0h3.24m0.76 0h1.24m1.76 0h1.24m2.76 0h4.24m0.76 0h1.24m2.76 0h6.24m0.76 0h1.24m0.76 0h2.24m0.76 0h1.24m0.76 0h4.24m0.76 0h2.24m1.76 0h3.24m0.76 0h2.24m0.76 0h2.24m0.76 0h2.24m0.76 0h4.24m1.76 0h3.24m2.76 0h1.24m4.76 0h1.24m2.76 0h4.24m0.76 0h9.24m5.76 0h3.24m0.76 0h1.24m0.76 0h4.24m0.76 0h5.24m0.76 0h1.24m2.76 0h5.24m0.76 0h1.24m2.76 0h2.24m1.76 0h1.24m1.76 0h5.24m0.76 0h1.24m0.76 0h1.24m0.76 0h1.24m4.76 0h3.24m0.76 0h2.24m0.76 0h1.24m2.76 0h1.24m6.76 0h1.24m5.76 0h1.24m-235.24 1h1.24m2.76 0h4.24m4.76 0h2.24m2.76 0h1.24m0.76 0h2.24m1.76 0h2.24m0.76 0h2.24m0.76 0h2.24m0.76 0h3.24m0.76 0h2.24m0.76 0h6.24m0.76 0h2.24m0.76 0h5.24m1.76 0h1.24m2.76 0h3.24m0.76 0h1.24m0.76 0h1.24m1.76 0h1.24m1.76 0h1.24m1.76 0h1.24m2.76 0h1.24m0.76 0h2.24m1.76 0h4.24m2.76 0h1.24m4.76 0h2.24m0.76 0h3.24m0.76 0h1.24m0.76 0h2.24m0.76 0h4.24m0.76 0h2.24m2.76 0h1.24m0.76 0h1.24m0.76 0h2.24m1.76 0h5.24m1.76 0h1.24m3.76 0h1.24m0.76 0h6.24m1.76 0h2.24m0.76 0h1.24m1.76 0h10.24m0.76 0h1.24m1.76 0h6.24m2.76 0h1.24m1.76 0h1.24m0.76 0h1.24m0.76 0h2.24m0.76 0h5.24m0.76 0h7.24m3.76 0h1.24m3.76 0h2.24m0.76 0h1.24m0.76 0h1.24m6.76 0h1.24m3.76 0h1.24m-238.24 1h1.24m0.76 0h1.24m12.76 0h3.24m3.76 0h1.24m0.76 0h1.24m1.76 0h3.24m3.76 0h1.24m0.76 0h1.24m0.76 0h2.24m0.76 0h1.24m0.76 0h1.24m1.76 0h2.24m0.76 0h1.24m2.76 0h1.24m6.76 0h1.24m0.76 0h2.24m2.76 0h2.24m2.76 0h1.24m0.76 0h3.24m1.76 0h1.24m3.76 0h5.24m2.76 0h2.24m0.76 0h1.24m3.76 0h2.24m0.76 0h3.24m0.76 0h2.24m0.76 0h2.24m1.76 0h2.24m1.76 0h1.24m0.76 0h1.24m0.76 0h2.24m0.76 0h2.24m2.76 0h1.24m1.76 0h2.24m1.76 0h3.24m1.76 0h6.24m0.76 0h1.24m0.76 0h1.24m1.76 0h1.24m0.76 0h2.24m0.76 0h2.24m0.76 0h5.24m0.76 0h9.24m0.76 0h3.24m3.76 0h5.24m0.76 0h8.24m0.76 0h2.24m4.76 0h9.24m0.76 0h3.24m1.76 0h3.24m7.76 0h1.24m4.76 0h1.24m4.76 0h1.24m-246.24 1h3.24m1.76 0h2.24m1.76 0h3.24m0.76 0h2.24m0.76 0h1.24m0.76 0h1.24m2.76 0h1.24m43.76 0h2.24m11.76 0h1.24m0.76 0h1.24m0.76 0h1.24m0.76 0h1.24m1.76 0h4.24m1.76 0h1.24m1.76 0h1.24m1.76 0h2.24m0.76 0h2.24m0.76 0h1.24m1.76 0h1.24m0.76 0h1.24m0.76 0h1.24m1.76 0h4.24m0.76 0h3.24m2.76 0h1.24m2.76 0h1.24m3.76 0h1.24m0.76 0h4.24m1.76 0h1.24m0.76 0h4.24m2.76 0h3.24m0.76 0h3.24m0.76 0h1.24m1.76 0h1.24m0.76 0h1.24m0.76 0h6.24m0.76 0h1.24m0.76 0h3.24m0.76 0h1.24m0.76 0h2.24m0.76 0h8.24m0.76 0h3.24m0.76 0h2.24m0.76 0h1.24m2.76 0h4.24m0.76 0h1.24m0.76 0h1.24m2.76 0h1.24m0.76 0h2.24m0.76 0h1.24m3.76 0h1.24m8.76 0h1.24m0.76 0h2.24m11.76 0h1.24m-259.24 1h1.24m0.76 0h1.24m0.76 0h4.24m2.76 0h4.24m3.76 0h1.24m0.76 0h1.24m0.76 0h1.24m50.76 0h1.24m3.76 0h2.24m5.76 0h2.24m0.76 0h2.24m0.76 0h1.24m3.76 0h2.24m0.76 0h1.24m0.76 0h1.24m0.76 0h1.24m0.76 0h1.24m0.76 0h1.24m0.76 0h1.24m1.76 0h1.24m0.76 0h2.24m0.76 0h1.24m1.76 0h1.24m1.76 0h1.24m2.76 0h3.24m0.76 0h2.24m0.76 0h1.24m3.76 0h1.24m1.76 0h1.24m0.76 0h3.24m4.76 0h1.24m0.76 0h4.24m2.76 0h8.24m0.76 0h2.24m1.76 0h5.24m0.76 0h1.24m0.76 0h2.24m4.76 0h3.24m0.76 0h1.24m1.76 0h3.24m0.76 0h2.24m0.76 0h1.24m1.76 0h2.24m2.76 0h8.24m0.76 0h1.24m2.76 0h1.24m21.76 0h1.24m-252.24 1h4.24m0.76 0h1.24m3.76 0h1.24m0.76 0h1.24m1.76 0h4.24m0.76 0h3.24m52.76 0h2.24m0.76 0h1.24m5.76 0h3.24m0.76 0h4.24m3.76 0h2.24m0.76 0h2.24m1.76 0h1.24m2.76 0h1.24m1.76 0h1.24m1.76 0h1.24m2.76 0h4.24m0.76 0h4.24m3.76 0h1.24m0.76 0h2.24m1.76 0h6.24m1.76 0h1.24m3.76 0h4.24m5.76 0h2.24m0.76 0h2.24m0.76 0h6.24m0.76 0h2.24m0.76 0h3.24m1.76 0h7.24m0.76 0h3.24m0.76 0h1.24m0.76 0h1.24m1.76 0h1.24m1.76 0h2.24m0.76 0h1.24m0.76 0h2.24m3.76 0h2.24m2.76 0h1.24m1.76 0h3.24m1.76 0h2.24m13.76 0h2.24m6.76 0h1.24m2.76 0h1.24m-256.24 1h5.24m0.76 0h4.24m2.76 0h1.24m1.76 0h2.24m58.76 0h3.24m0.76 0h1.24m2.76 0h1.24m1.76 0h2.24m1.76 0h7.24m2.76 0h1.24m0.76 0h6.24m0.76 0h4.24m0.76 0h5.24m0.76 0h1.24m0.76 0h4.24m0.76 0h1.24m0.76 0h1.24m0.76 0h1.24m0.76 0h5.24m1.76 0h1.24m1.76 0h1.24m1.76 0h5.24m0.76 0h1.24m0.76 0h5.24m0.76 0h7.24m0.76 0h4.24m0.76 0h13.24m1.76 0h4.24m1.76 0h4.24m1.76 0h1.24m4.76 0h1.24m0.76 0h3.24m2.76 0h1.24m0.76 0h1.24m1.76 0h3.24m2.76 0h1.24m1.76 0h2.24m1.76 0h1.24m16.76 0h1.24m5.76 0h1.24m-259.24 1h1.24m5.76 0h1.24m2.76 0h1.24m6.76 0h2.24m56.76 0h1.24m4.76 0h2.24m0.76 0h3.24m2.76 0h3.24m0.76 0h1.24m0.76 0h3.24m0.76 0h1.24m1.76 0h5.24m0.76 0h4.24m0.76 0h4.24m4.76 0h1.24m0.76 0h1.24m2.76 0h5.24m1.76 0h15.24m0.76 0h5.24m0.76 0h5.24m0.76 0h18.24m0.76 0h1.24m0.76 0h2.24m0.76 0h8.24m2.76 0h1.24m0.76 0h1.24m0.76 0h4.24m0.76 0h1.24m1.76 0h4.24m0.76 0h3.24m2.76 0h1.24m2.76 0h1.24m5.76 0h1.24m4.76 0h1.24m-164.24 1h1.24m2.76 0h1.24m1.76 0h1.24m0.76 0h2.24m0.76 0h2.24m1.76 0h6.24m1.76 0h1.24m0.76 0h11.24m1.76 0h1.24m0.76 0h2.24m0.76 0h2.24m0.76 0h3.24m0.76 0h2.24m0.76 0h7.24m0.76 0h1.24m0.76 0h2.24m0.76 0h1.24m1.76 0h3.24m1.76 0h1.24m0.76 0h4.24m0.76 0h2.24m0.76 0h1.24m1.76 0h1.24m0.76 0h2.24m0.76 0h6.24m0.76 0h2.24m0.76 0h1.24m0.76 0h7.24m0.76 0h4.24m1.76 0h2.24m3.76 0h1.24m0.76 0h1.24m0.76 0h1.24m2.76 0h1.24m0.76 0h1.24m1.76 0h4.24m3.76 0h1.24m2.76 0h1.24m1.76 0h2.24m0.76 0h1.24m0.76 0h1.24m1.76 0h1.24m18.76 0h1.24m-179.24 1h1.24m2.76 0h1.24m2.76 0h6.24m0.76 0h1.24m0.76 0h20.24m0.76 0h10.24m0.76 0h2.24m0.76 0h6.24m2.76 0h1.24m0.76 0h4.24m0.76 0h3.24m0.76 0h1.24m0.76 0h2.24m1.76 0h3.24m0.76 0h9.24m1.76 0h1.24m0.76 0h2.24m0.76 0h8.24m0.76 0h6.24m0.76 0h2.24m0.76 0h5.24m0.76 0h2.24m0.76 0h1.24m1.76 0h5.24m0.76 0h1.24m0.76 0h1.24m0.76 0h2.24m0.76 0h2.24m0.76 0h2.24m3.76 0h1.24m2.76 0h1.24m11.76 0h1.24m-159.24 1h4.24m0.76 0h4.24m1.76 0h2.24m0.76 0h2.24m0.76 0h5.24m0.76 0h1.24m0.76 0h1.24m0.76 0h7.24m0.76 0h6.24m0.76 0h1.24m0.76 0h1.24m0.76 0h5.24m0.76 0h5.24m0.76 0h3.24m0.76 0h2.24m0.76 0h1.24m0.76 0h3.24m0.76 0h16.24m0.76 0h4.24m0.76 0h11.24m0.76 0h1.24m0.76 0h3.24m3.76 0h4.24m0.76 0h3.24m0.76 0h2.24m3.76 0h1.24m0.76 0h1.24m1.76 0h3.24m0.76 0h1.24m0.76 0h1.24m4.76 0h1.24m2.76 0h1.24m-148.24 1h2.24m0.76 0h2.24m0.76 0h1.24m1.76 0h3.24m1.76 0h7.24m0.76 0h8.24m0.76 0h3.24m0.76 0h3.24m0.76 0h3.24m1.76 0h2.24m0.76 0h12.24m0.76 0h5.24m0.76 0h2.24m1.76 0h4.24m0.76 0h1.24m0.76 0h1.24m1.76 0h5.24m0.76 0h3.24m0.76 0h2.24m1.76 0h5.24m1.76 0h1.24m0.76 0h1.24m0.76 0h5.24m0.76 0h6.24m0.76 0h1.24m1.76 0h4.24m1.76 0h1.24m0.76 0h4.24m1.76 0h1.24m1.76 0h1.24m1.76 0h2.24m1.76 0h1.24m6.76 0h1.24m2.76 0h1.24m0.76 0h1.24m3.76 0h1.24m-162.24 1h1.24m0.76 0h1.24m0.76 0h1.24m0.76 0h2.24m0.76 0h1.24m0.76 0h1.24m0.76 0h3.24m0.76 0h7.24m0.76 0h2.24m0.76 0h5.24m0.76 0h16.24m0.76 0h5.24m0.76 0h3.24m0.76 0h6.24m0.76 0h4.24m0.76 0h7.24m0.76 0h7.24m0.76 0h10.24m0.76 0h1.24m0.76 0h7.24m0.76 0h2.24m1.76 0h3.24m1.76 0h5.24m1.76 0h2.24m0.76 0h2.24m0.76 0h1.24m2.76 0h2.24m4.76 0h1.24m6.76 0h1.24m10.76 0h1.24m-156.24 1h1.24m1.76 0h4.24m0.76 0h1.24m0.76 0h2.24m0.76 0h3.24m0.76 0h7.24m0.76 0h4.24m0.76 0h14.24m0.76 0h1.24m1.76 0h7.24m0.76 0h12.24m0.76 0h1.24m0.76 0h2.24m0.76 0h1.24m0.76 0h2.24m0.76 0h1.24m0.76 0h14.24m0.76 0h3.24m0.76 0h7.24m0.76 0h5.24m0.76 0h1.24m0.76 0h1.24m0.76 0h4.24m1.76 0h1.24m0.76 0h4.24m5.76 0h1.24m2.76 0h2.24m3.76 0h1.24m-141.24 1h1.24m0.76 0h1.24m2.76 0h9.24m0.76 0h1.24m0.76 0h15.24m0.76 0h7.24m0.76 0h3.24m0.76 0h7.24m0.76 0h15.24m0.76 0h2.24m0.76 0h6.24m0.76 0h1.24m0.76 0h4.24m0.76 0h2.24m0.76 0h3.24m4.76 0h2.24m0.76 0h7.24m0.76 0h1.24m0.76 0h2.24m0.76 0h2.24m3.76 0h1.24m7.76 0h1.24m6.76 0h1.24m0.76 0h1.24m0.76 0h1.24m7.76 0h2.24m-147.24 1h1.24m2.76 0h2.24m1.76 0h1.24m1.76 0h1.24m0.76 0h5.24m0.76 0h9.24m0.76 0h15.24m0.76 0h5.24m0.76 0h6.24m0.76 0h11.24m0.76 0h4.24m1.76 0h3.24m0.76 0h2.24m1.76 0h2.24m0.76 0h1.24m2.76 0h2.24m0.76 0h3.24m0.76 0h2.24m0.76 0h5.24m0.76 0h1.24m0.76 0h1.24m1.76 0h2.24m1.76 0h3.24m6.76 0h1.24m4.76 0h1.24m1.76 0h1.24m0.76 0h1.24m-130.24 1h1.24m3.76 0h9.24m0.76 0h1.24m1.76 0h2.24m0.76 0h7.24m0.76 0h7.24m0.76 0h9.24m0.76 0h6.24m1.76 0h4.24m0.76 0h1.24m0.76 0h2.24m0.76 0h5.24m0.76 0h4.24m0.76 0h10.24m2.76 0h4.24m0.76 0h3.24m0.76 0h1.24m2.76 0h2.24m2.76 0h4.24m2.76 0h1.24m3.76 0h1.24m5.76 0h1.24m0.76 0h1.24m-119.24 1h1.24m0.76 0h1.24m0.76 0h5.24m0.76 0h17.24m1.76 0h19.24m1.76 0h7.24m0.76 0h2.24m0.76 0h12.24m0.76 0h11.24m0.76 0h1.24m0.76 0h2.24m4.76 0h1.24m1.76 0h1.24m1.76 0h3.24m1.76 0h2.24m0.76 0h1.24m2.76 0h1.24m-118.24 1h1.24m11.76 0h2.24m1.76 0h2.24m0.76 0h1.24m1.76 0h1.24m0.76 0h2.24m0.76 0h2.24m0.76 0h4.24m1.76 0h11.24m0.76 0h1.24m0.76 0h2.24m0.76 0h4.24m0.76 0h2.24m0.76 0h1.24m0.76 0h4.24m0.76 0h7.24m1.76 0h6.24m0.76 0h3.24m2.76 0h1.24m0.76 0h5.24m0.76 0h1.24m1.76 0h2.24m1.76 0h1.24m0.76 0h2.24m1.76 0h1.24m8.76 0h2.24m-99.24 1h1.24m2.76 0h1.24m0.76 0h1.24m1.76 0h17.24m0.76 0h6.24m0.76 0h3.24m0.76 0h5.24m0.76 0h6.24m0.76 0h10.24m0.76 0h1.24m0.76 0h8.24m0.76 0h2.24m1.76 0h1.24m2.76 0h1.24m1.76 0h1.24m15.76 0h1.24m-91.24 1h1.24m7.76 0h2.24m0.76 0h1.24m1.76 0h1.24m1.76 0h8.24m0.76 0h2.24m1.76 0h5.24m0.76 0h5.24m0.76 0h6.24m0.76 0h2.24m0.76 0h5.24m3.76 0h1.24m2.76 0h3.24m1.76 0h1.24m1.76 0h1.24m3.76 0h1.24m1.76 0h1.24m4.76 0h1.24m-70.24 1h1.24m4.76 0h1.24m3.76 0h2.24m1.76 0h4.24m0.76 0h2.24m0.76 0h1.24m2.76 0h2.24m0.76 0h3.24m0.76 0h1.24m0.76 0h3.24m3.76 0h4.24m1.76 0h1.24m0.76 0h1.24m1.76 0h1.24m0.76 0h1.24m7.76 0h1.24m-48.24 1h1.24m7.76 0h1.24m1.76 0h2.24m0.76 0h1.24m0.76 0h3.24m1.76 0h1.24m0.76 0h1.24m2.76 0h2.24m0.76 0h1.24m2.76 0h1.24m1.76 0h1.24m1.76 0h3.24m1.76 0h1.24m-31.24 1h2.24m0.76 0h2.24m0.76 0h1.24m0.76 0h2.24m3.76 0h1.24m0.76 0h4.24m0.76 0h1.24m2.76 0h1.24m1.76 0h1.24m1.76 0h1.24m-19.24 1h1.24m3.76 0h1.24m0.76 0h1.24" stroke="#bebebe" stroke-width="1.24" fill="none"/></defs><g><use href="#g" x="0" y="0"/><use href="#g" x="330" y="0"/><use href="#g" x="0" y="225"/><use href="#g" x="330" y="225"/><use href="#g" x="0" y="451"/><use href="#g" x="330" y="451"/></g><g stroke="#338000" stroke-width="1" fill="none"><path d="M141 78.5h2m-2 1h2m-8 2h2m-2 1h2m5 1h2m-2 1h2m1 0h2m-2 1h2m-7 3h2m-2 1h2m13 0h2m-2 1h2m2 0h2m-2 1h2m-2 3h2m1 0h2m3 0h2m-10 1h2m1 0h2m1 0h4m-7 1h2m1 0h2m10 0h2m-26 1h2m2 0h2m3 0h2m13 0h2m-29 1h2m1 0h2m2 0h2m3 0h2m-14 1h2m10 0h4m-4 1h4m7 0h2m-13 1h2m1 0h2m3 0h2m1 0h2m-10 1h2m3 0h2m-4 1h2m-2 1h2m2 0h2m-8 1h2m4 0h2m-8 1h2m1 1h2m-2 1h2m16 0h3m-10 1h2m5 0h3m-15 1h2m3 0h2m3 0h2m1 0h2m5 0h2m-28 1h2m4 0h2m4 0h2m2 0h2m1 0h4m3 0h2m-28 1h2m10 0h2m2 0h3m1 0h6m3 0h2m5 0h2m-24 1h5m2 0h5m3 0h2m5 0h2m-24 1h4m12 0h2m12 0h2m-37 1h2m5 0h2m12 0h2m12 0h2m21 0h2m-60 1h2m2 0h3m3 0h2m1 0h4m8 0h2m5 0h4m22 0h2m-56 1h3m3 0h2m1 0h4m8 0h2m5 0h4m-32 1h2m2 0h2m2 0h2m21 0h3m-30 1h2m2 0h2m4 0h3m14 0h3m-27 1h2m5 0h5m5 0h2m6 0h2m-27 1h2m2 0h4m2 0h2m3 0h4m10 0h2m-29 1h6m1 0h2m1 0h2m1 0h2m4 0h2m1 0h2m3 0h2m-29 1h2m1 0h2m1 0h3m1 0h2m1 0h2m3 0h3m1 0h2m6 0h2m3 0h2m-34 1h2m1 0h2m2 0h2m4 0h4m5 0h2m1 0h4m3 0h2m6 0h2m-35 1h2m1 0h2m1 0h2m6 0h3m1 0h3m10 0h4m-32 1h2m8 0h3m6 0h5m1 0h2m1 0h2m14 0h2m-52 1h2m4 0h2m2 0h2m4 0h3m3 0h2m1 0h8m17 0h2m-54 1h4m8 0h4m8 0h2m3 0h4m6 0h2m-41 1h2m12 0h2m2 0h2m7 0h4m2 0h2m4 0h2m-41 1h4m2 0h3m7 0h5m6 0h2m4 0h2m3 0h2m1 0h2m-41 1h2m2 0h4m1 0h2m3 0h2m1 0h5m5 0h2m2 0h3m2 0h2m1 0h2m-37 1h4m1 0h2m8 0h3m5 0h2m3 0h2m1 0h2m-31 1h2m3 0h2m1 0h2m3 0h4m3 0h2m7 0h2m-26 1h2m1 0h11m1 0h2m25 0h2m-40 1h5m3 0h5m5 0h2m2 0h2m4 0h2m8 0h2m-43 1h2m3 0h3m4 0h2m1 0h2m1 0h2m1 0h2m2 0h2m4 0h2m-36 1h2m1 0h2m3 0h2m8 0h5m1 0h4m2 0h2m-32 1h2m3 0h2m2 0h2m8 0h2m3 0h8m2 0h2m-31 1h2m2 0h2m5 0h4m7 0h3m4 0h2m-26 1h2m1 0h2m1 0h4m1 0h2m4 0h4m1 0h2m-24 1h2m1 0h2m6 0h3m3 0h4m1 0h2m-19 1h2m5 0h2m2 0h4m2 0h2m1 0h2m-22 1h4m7 0h4m2 0h2m1 0h2m2 0h2m-24 1h2m6 0h2m12 0h3m-22 1h2m3 0h2m2 0h2m9 0h2m-22 1h2m7 0h2"/><path d="M464 75.5h2m9 0h2m-13 1h2m9 0h2m3 4h2m-2 1h2m13 10h2m-2 1h2m-16 2h2m22 0h2m-26 1h2m22 0h2m-22 1h2m4 0h2m5 0h2m-15 1h2m4 0h2m5 0h3m-13 1h2m9 0h2m-13 1h2m12 0h2m-6 1h2m2 0h2m13 0h2m-21 1h2m17 0h2m0 1h2m2 0h2m-37 1h2m19 0h2m8 0h2m2 0h2m-37 1h2m12 0h3m4 0h2m2 0h2m-13 1h3m2 0h5m1 0h2m20 0h2m-30 1h5m10 0h2m11 0h2m6 0h2m-60 1h2m23 0h2m10 0h3m18 0h2m3 0h2m-65 1h2m23 0h2m6 0h2m1 0h4m23 0h2m-40 1h2m6 0h2m1 0h2m2 1h2m-41 1h2m13 0h2m3 0h2m6 0h2m9 0h2m19 0h2m-62 1h2m13 0h2m2 0h3m1 0h2m3 0h2m18 0h2m3 0h2m5 0h3m2 0h2m-48 1h3m1 0h2m3 0h2m5 0h2m11 0h2m3 0h3m3 0h4m2 0h2m-43 1h3m1 0h2m5 0h4m15 0h2m3 0h2m-53 1h2m7 0h2m3 0h8m7 0h2m8 0h2m2 0h2m15 0h3m-63 1h2m7 0h2m3 0h4m1 0h2m8 0h3m7 0h2m2 0h2m15 0h3m1 0h2m-53 1h2m1 0h2m5 0h2m4 0h5m2 0h2m6 0h2m8 0h2m4 0h6m-61 1h2m5 0h5m6 0h4m5 0h2m2 0h5m3 0h2m5 0h2m1 0h2m4 0h7m-62 1h2m4 0h3m1 0h3m7 0h2m1 0h3m6 0h4m7 0h2m1 0h2m12 0h2m-70 1h2m12 0h2m3 0h2m5 0h2m3 0h3m4 0h3m1 0h2m7 0h2m1 0h2m5 0h2m6 0h2m-71 1h2m2 0h2m20 0h2m10 0h5m18 0h2m5 0h3m-67 1h2m19 0h4m3 0h2m2 0h3m1 0h3m25 0h2m8 0h2m-62 1h2m4 0h5m1 0h4m2 0h8m11 0h2m5 0h2m3 0h2m4 0h2m3 0h2m-75 1h2m2 0h2m7 0h2m4 0h4m2 0h2m2 0h2m2 0h6m11 0h5m2 0h2m3 0h2m3 0h3m-70 1h2m2 0h2m11 0h2m1 0h3m2 0h2m2 0h2m3 0h3m13 0h7m5 0h2m3 0h3m-58 1h4m1 0h2m1 0h3m16 0h4m6 0h2m4 0h2m5 0h2m3 0h2m-59 1h6m5 0h2m4 0h3m1 0h2m6 0h4m6 0h2m4 0h5m-77 1h2m14 0h2m9 0h4m9 0h2m1 0h4m1 0h5m13 0h2m4 0h5m-77 1h2m14 0h2m11 0h5m4 0h4m1 0h2m2 0h6m7 0h5m-35 1h4m4 0h2m2 0h2m3 0h2m8 0h2m1 0h5m14 0h2m-49 1h2m1 0h2m3 0h4m3 0h3m1 0h4m1 0h7m1 0h3m3 0h4m3 0h5m-50 1h6m2 0h2m4 0h4m1 0h4m1 0h7m1 0h3m3 0h9m1 0h2m4 0h2m-56 1h3m1 0h2m7 0h3m1 0h2m2 0h2m1 0h21m7 0h4m-56 1h3m8 0h8m1 0h2m4 0h3m1 0h13m1 0h2m6 0h2m-61 1h2m6 0h2m8 0h13m2 0h13m1 0h2m2 0h2m6 0h2m-61 1h2m1 0h4m1 0h3m11 0h5m2 0h4m1 0h13m12 0h2m-58 1h8m6 0h3m1 0h2m1 0h4m1 0h4m1 0h8m2 0h3m7 0h3m-50 1h2m7 0h22m1 0h3m1 0h4m7 0h3m4 0h2m-59 1h3m2 0h5m2 0h26m1 0h4m2 0h2m10 0h2m-59 1h3m2 0h7m1 0h2m4 0h25m1 0h2m-49 1h3m9 0h2m1 0h2m1 0h31m6 0h2m-57 1h3m2 0h2m4 0h4m3 0h3m1 0h22m1 0h4m6 0h2m-71 1h2m13 0h2m2 0h2m4 0h4m1 0h4m3 0h2m1 0h14m2 0h2m3 0h2m7 0h2m-72 1h2m13 0h2m13 0h4m1 0h19m2 0h2m9 0h2m1 0h2m-42 1h23m3 0h4m7 0h2m-39 1h31m1 0h2m3 0h2m-39 1h35m2 0h2m-44 1h2m3 0h2m1 0h20m1 0h4m2 0h5m-40 1h2m1 0h2m3 0h7m2 0h8m1 0h2m1 0h4m-30 1h2m2 0h26m1 0h2m-29 1h4m3 0h19m1 0h2m-27 1h2m3 0h16m-21 1h2m6 0h2m1 0h10m1 0h2m-22 1h4m1 0h13m2 0h2m-22 1h17m9 0h2m-25 1h12m11 0h2m-26 1h4m3 0h5m3 0h2m-17 1h4m3 0h2m6 0h2m-10 1h2"/><path d="M166 319.5h2m5 0h2m-9 1h2m5 0h2m-8 1h2m-2 1h2m86 1h2m-2 1h2m-88 1h2m4 0h2m20 0h2m-33 1h2m1 0h2m4 0h2m20 0h2m61 0h2m-96 1h2m22 0h2m68 0h2m-72 1h2m9 1h2m12 0h2m-25 1h2m5 0h4m12 0h2m-25 1h2m5 0h2m2 0h2m4 0h2m-16 1h2m6 0h2m4 0h2m-16 1h4m6 0h2m2 0h2m7 0h2m-42 1h3m2 0h2m2 0h2m8 0h2m2 0h2m2 0h2m1 0h3m7 0h2m3 0h2m4 0h2m-55 1h5m2 0h2m2 0h2m12 0h2m5 0h4m11 0h2m4 0h2m-55 1h2m32 0h2m-36 1h2m35 0h2m2 0h2m5 0h2m10 0h2m-31 1h2m4 0h2m2 0h2m5 0h2m10 0h2m-57 1h2m24 0h2m1 0h2m1 0h2m1 0h3m5 0h2m8 0h2m4 0h2m-72 1h2m4 0h2m3 0h2m10 0h2m1 0h2m7 0h7m1 0h2m1 0h5m3 0h2m8 0h2m4 0h2m-72 1h2m4 0h2m15 0h2m1 0h2m2 0h2m2 0h6m2 0h2m2 0h5m1 0h4m4 0h4m-40 1h2m2 0h4m2 0h5m2 0h3m4 0h2m2 0h4m4 0h6m2 0h5m-66 1h2m15 0h2m1 0h3m4 0h2m1 0h6m1 0h4m1 0h3m2 0h2m3 0h3m2 0h2m2 0h5m4 0h2m-72 1h3m9 0h2m3 0h7m6 0h4m3 0h4m1 0h5m5 0h2m16 0h2m-78 1h2m4 0h3m3 0h2m2 0h6m1 0h4m1 0h2m6 0h3m4 0h4m2 0h4m6 0h4m-63 1h3m8 0h3m2 0h6m1 0h2m1 0h2m6 0h2m1 0h2m4 0h2m4 0h2m7 0h5m10 0h2m-74 1h2m8 0h4m4 0h2m2 0h5m5 0h4m7 0h2m8 0h3m1 0h2m2 0h2m9 0h2m-62 1h2m2 0h4m4 0h4m4 0h6m2 0h5m8 0h4m2 0h4m2 0h2m2 0h2m-60 1h2m2 0h7m2 0h4m1 0h5m1 0h3m2 0h5m4 0h2m2 0h4m2 0h4m2 0h6m-60 1h2m2 0h9m2 0h2m1 0h7m1 0h2m1 0h2m1 0h4m2 0h2m4 0h2m3 0h3m3 0h3m6 0h2m-69 1h2m6 0h3m3 0h7m2 0h18m6 0h4m2 0h5m6 0h5m-69 1h4m4 0h2m1 0h12m1 0h13m2 0h2m2 0h2m3 0h4m1 0h5m1 0h8m-66 1h3m5 0h7m3 0h13m2 0h8m1 0h2m2 0h2m1 0h2m7 0h5m-70 1h2m5 0h2m3 0h5m1 0h2m1 0h7m1 0h19m5 0h2m4 0h2m4 0h4m1 0h2m-72 1h6m6 0h5m1 0h7m1 0h2m2 0h20m1 0h4m4 0h2m4 0h4m1 0h2m-70 1h4m6 0h15m3 0h12m1 0h10m18 0h2m-61 1h7m1 0h22m1 0h11m5 0h2m1 0h5m4 0h2m-58 1h4m1 0h23m1 0h5m1 0h4m5 0h2m1 0h6m-51 1h2m1 0h8m1 0h18m2 0h8m5 0h6m1 0h2m-56 1h2m3 0h37m3 0h2m1 0h5m1 0h3m-63 1h48m3 0h6m3 0h5m5 0h2m-74 1h20m1 0h6m1 0h25m2 0h2m2 0h2m1 0h5m5 0h2m-74 1h2m2 0h15m2 0h18m1 0h9m1 0h5m4 0h2m1 0h3m-65 1h2m2 0h4m2 0h29m1 0h15m6 0h3m-63 1h2m3 0h8m1 0h40m1 0h3m2 0h3m-63 1h2m2 0h18m2 0h23m1 0h5m1 0h4m3 0h2m-59 1h14m1 0h15m1 0h3m1 0h14m1 0h2m1 0h2m2 0h2m-62 1h2m1 0h14m1 0h7m1 0h11m1 0h14m3 0h3m4 0h4m-67 1h49m2 0h3m2 0h2m2 0h2m1 0h4m1 0h2m6 0h2m-78 1h47m1 0h9m3 0h2m2 0h2m2 0h2m6 0h2m-77 1h2m2 0h52m7 0h2m-60 1h17m1 0h14m1 0h16m1 0h2m1 0h2m-58 1h2m2 0h30m1 0h20m1 0h2m3 0h2m-63 1h2m2 0h10m4 0h35m6 0h4m-68 1h2m2 0h3m2 0h47m3 0h4m1 0h6m-70 1h2m2 0h4m2 0h15m1 0h29m1 0h2m1 0h4m2 0h5m-64 1h2m2 0h13m2 0h28m3 0h2m19 0h2m-64 1h7m3 0h14m1 0h11m5 0h2m4 0h2m13 0h2m-66 1h4m2 0h2m5 0h3m1 0h17m2 0h3m7 0h5m-51 1h2m1 0h5m1 0h2m1 0h20m1 0h2m2 0h2m7 0h5m-49 1h4m3 0h15m2 0h4m3 0h4m1 0h2m14 0h2m-54 1h2m6 0h13m1 0h8m1 0h4m1 0h2m14 0h2m-45 1h3m3 0h2m3 0h4m4 0h2m1 0h2m3 0h2m-30 1h2m6 0h2m2 0h3m13 0h2m3 0h2m-35 1h2m6 0h2m3 0h2m18 0h2m21 0h2m-2 1h2"/><path d="M499 246.5h2m-2 1h2m16 2h2m-22 1h2m18 0h2m-22 1h2m1 0h2m-2 1h2m15 4h2m-23 1h2m19 0h2m-23 1h2m9 0h2m14 0h2m-18 1h2m14 0h2m-14 1h2m-2 1h3m-4 1h4m-4 1h2m5 3h2m-3 1h3m-13 1h2m1 0h2m5 0h2m-18 1h2m1 0h2m1 0h2m1 0h2m-11 1h2m1 0h2m5 0h2m-2 1h3m9 0h2m-30 1h3m14 0h2m9 0h2m-33 1h2m1 0h3m6 0h2m-14 1h2m1 0h2m7 0h2m-11 1h2m1 0h2m4 0h2m3 0h3m-14 1h2m4 0h2m3 0h3m4 3h2m3 0h2m-30 1h2m17 0h3m1 0h2m3 0h2m-30 1h2m13 0h2m2 0h3m9 0h2m-18 1h2m14 0h2m-26 1h2m-2 1h2m17 1h2m-4 1h4m2 0h2m4 0h2m-26 1h2m10 0h2m4 0h2m4 0h2m-26 1h2m16 0h2m2 0h2m-39 1h2m31 0h2m2 0h2m-39 1h2m7 0h2m17 0h2m-70 1h2m34 0h2m11 0h2m17 0h2m8 0h2m-80 1h2m34 0h2m34 0h2m4 0h2m-42 1h2m5 0h2m25 0h2m-36 1h2m5 0h2m9 0h2m5 0h2m-30 1h2m19 0h4m3 0h2m10 0h2m-42 1h2m21 0h2m15 0h2m-28 1h2m-13 1h2m9 0h2m21 0h2m-42 1h2m4 0h2m32 0h2m-42 1h2m3 0h2m-3 1h3m-3 1h2m14 0h2m9 0h2m-13 1h2m9 0h2m16 0h2m-44 1h2m40 0h2m-44 1h2m20 0h2m2 0h3m6 0h2m-15 1h2m2 0h3m6 0h2m-49 1h2m42 0h4m-48 1h3m41 0h4m-47 1h2m24 0h2m-2 1h2m9 0h2m-17 1h2m2 0h2m9 0h3m6 0h2m5 0h2m-59 1h2m10 0h2m12 0h2m14 0h2m6 0h2m5 0h2m-59 1h2m10 0h2m12 0h2m9 0h3m9 0h2m13 0h2m-40 1h4m3 0h2m1 0h4m9 0h2m2 0h2m5 0h2m2 0h2m-48 1h2m8 0h2m3 0h2m1 0h4m13 0h2m5 0h2m-64 1h2m5 0h2m1 0h2m8 0h3m17 0h2m8 0h2m-52 1h2m5 0h2m1 0h4m3 0h2m2 0h2m9 0h2m12 0h2m2 0h6m5 0h2m-65 1h2m12 0h2m3 0h2m13 0h2m9 0h2m1 0h2m1 0h7m5 0h2m-65 1h3m19 0h2m3 0h2m3 0h4m9 0h2m4 0h2m3 0h2m-57 1h2m13 0h2m4 0h3m2 0h2m3 0h2m13 0h4m5 0h2m-42 1h2m2 0h2m1 0h2m2 0h2m8 0h4m6 0h4m15 0h2m-48 1h2m5 0h2m8 0h4m17 0h2m5 0h3m-40 1h2m2 0h2m12 0h2m10 0h2m3 0h4m6 0h2m4 0h2m-53 1h2m2 0h2m12 0h2m10 0h8m7 0h2m4 0h2m-63 1h2m8 0h2m16 0h2m10 0h5m1 0h2m2 0h2m-57 1h2m3 0h2m3 0h2m3 0h3m1 0h2m20 0h2m12 0h2m4 0h2m-63 1h2m8 0h2m4 0h2m1 0h2m18 0h5m7 0h2m4 0h3m1 0h2m-62 1h2m4 0h2m13 0h2m15 0h2m1 0h3m5 0h3m3 0h4m3 0h2m-64 1h2m4 0h4m4 0h2m3 0h4m19 0h2m4 0h3m4 0h2m5 0h2m-69 1h2m7 0h9m1 0h2m2 0h3m6 0h2m19 0h2m13 0h2m-75 1h2m3 0h3m6 0h9m5 0h2m7 0h2m3 0h2m13 0h2m14 0h2m-75 1h2m4 0h2m10 0h2m7 0h2m7 0h2m4 0h2m2 0h2m9 0h2m17 0h2m-81 1h2m10 0h2m4 0h2m10 0h2m7 0h2m6 0h4m1 0h2m3 0h2m20 0h2m-81 1h2m9 0h3m4 0h2m5 0h2m1 0h2m2 0h2m12 0h8m3 0h2m6 0h2m3 0h2m4 0h2m-82 1h2m13 0h2m12 0h2m1 0h2m2 0h3m2 0h2m7 0h6m8 0h2m1 0h4m3 0h2m4 0h2m-82 1h2m5 0h2m6 0h2m17 0h2m1 0h3m1 0h4m4 0h4m11 0h9m8 0h2m-76 1h2m6 0h2m10 0h4m3 0h3m1 0h7m4 0h4m12 0h2m4 0h4m6 0h2m1 0h2m-87 1h2m7 0h2m5 0h2m10 0h4m3 0h3m2 0h5m7 0h2m6 0h4m8 0h4m4 0h4m1 0h2m-87 1h2m7 0h2m4 0h3m10 0h10m2 0h6m6 0h2m4 0h6m4 0h2m2 0h2m1 0h4m1 0h4m-79 1h2m8 0h3m10 0h10m1 0h3m2 0h2m6 0h2m4 0h4m1 0h2m3 0h2m5 0h4m3 0h2m-79 1h4m10 0h2m9 0h5m4 0h4m7 0h2m11 0h2m3 0h2m2 0h3m1 0h2m4 0h2m13 0h3m-93 1h2m10 0h2m1 0h6m4 0h3m4 0h4m2 0h2m3 0h2m12 0h2m2 0h2m2 0h3m2 0h4m16 0h3m-92 1h3m6 0h2m3 0h6m5 0h2m3 0h5m2 0h2m6 0h4m7 0h2m6 0h2m3 0h4m11 0h2m4 0h2m-114 1h2m20 0h3m6 0h2m3 0h3m5 0h2m4 0h4m13 0h4m2 0h2m3 0h2m4 0h4m1 0h2m1 0h2m10 0h4m4 0h2m-116 1h4m5 0h2m11 0h2m17 0h4m1 0h3m3 0h2m4 0h3m14 0h2m8 0h4m2 0h2m1 0h2m10 0h2m8 0h3m-121 1h4m7 0h2m8 0h5m11 0h2m4 0h8m6 0h7m9 0h2m4 0h4m4 0h4m5 0h4m18 0h3m-121 1h2m1 0h4m6 0h2m6 0h4m1 0h3m8 0h2m1 0h2m1 0h2m2 0h2m8 0h3m1 0h3m9 0h2m1 0h2m1 0h4m4 0h6m5 0h2m17 0h2m-116 1h4m6 0h2m1 0h2m1 0h2m2 0h6m2 0h3m6 0h2m1 0h2m5 0h2m6 0h7m2 0h2m7 0h2m1 0h2m2 0h2m6 0h3m8 0h2m5 0h2m1 0h2m3 0h2m-111 1h2m1 0h2m3 0h5m3 0h2m5 0h7m10 0h4m3 0h2m1 0h4m1 0h2m2 0h2m1 0h2m5 0h2m3 0h3m5 0h4m2 0h2m4 0h2m3 0h4m1 0h2m-114 1h3m5 0h5m3 0h4m4 0h2m6 0h9m2 0h2m3 0h3m4 0h2m3 0h2m5 0h2m1 0h2m5 0h2m3 0h2m2 0h3m1 0h2m4 0h2m9 0h2m-109 1h3m5 0h5m3 0h3m13 0h4m2 0h3m2 0h3m9 0h2m2 0h2m2 0h6m3 0h3m3 0h4m4 0h3m3 0h2m1 0h4m-93 1h7m3 0h3m6 0h2m7 0h2m1 0h3m4 0h2m13 0h2m2 0h4m5 0h5m1 0h6m7 0h3m1 0h4m-93 1h2m7 0h4m6 0h2m7 0h2m1 0h4m2 0h3m2 0h2m23 0h4m1 0h2m2 0h2m3 0h2m2 0h3m1 0h2m2 0h2m7 0h2m-102 1h2m5 0h2m3 0h2m2 0h2m8 0h3m2 0h2m2 0h7m1 0h4m3 0h2m9 0h2m1 0h2m2 0h4m7 0h3m2 0h2m5 0h2m1 0h2m4 0h2m2 0h2m-107 1h3m4 0h2m4 0h2m2 0h2m9 0h2m2 0h2m2 0h2m1 0h3m2 0h4m3 0h4m7 0h2m1 0h3m1 0h2m7 0h2m1 0h4m3 0h2m4 0h3m6 0h4m-107 1h2m1 0h6m1 0h4m15 0h5m19 0h2m7 0h2m1 0h3m10 0h4m1 0h2m3 0h4m2 0h3m6 0h2m-105 1h2m1 0h4m3 0h4m2 0h3m2 0h3m5 0h4m3 0h3m10 0h2m11 0h2m1 0h2m1 0h2m5 0h3m2 0h2m8 0h2m3 0h2m-87 1h4m2 0h3m2 0h5m3 0h3m2 0h5m9 0h3m1 0h2m8 0h3m3 0h2m3 0h5m1 0h2m9 0h2m5 0h2m9 0h2m-112 1h2m4 0h3m1 0h2m2 0h2m3 0h6m1 0h2m4 0h7m11 0h3m1 0h3m8 0h2m7 0h4m3 0h5m3 0h2m6 0h4m6 0h5m-112 1h2m1 0h6m1 0h2m2 0h2m4 0h4m4 0h2m2 0h4m1 0h4m5 0h4m1 0h2m2 0h2m10 0h3m4 0h4m3 0h5m1 0h4m3 0h2m1 0h2m2 0h2m4 0h4m-121 1h2m2 0h2m4 0h2m1 0h4m7 0h2m2 0h2m8 0h2m2 0h2m3 0h4m5 0h4m1 0h2m7 0h2m5 0h3m6 0h2m2 0h5m2 0h5m2 0h2m5 0h2m3 0h2m10 0h2m3 0h2m-135 1h2m2 0h2m7 0h3m3 0h3m1 0h3m2 0h2m8 0h4m5 0h2m3 0h2m10 0h4m2 0h2m5 0h2m9 0h7m1 0h6m11 0h7m8 0h2m3 0h2m-120 1h2m2 0h3m1 0h2m1 0h2m11 0h3m10 0h2m1 0h2m7 0h6m1 0h2m4 0h2m5 0h2m2 0h13m1 0h2m9 0h4m1 0h2m-105 1h3m1 0h4m3 0h2m5 0h2m3 0h3m11 0h2m1 0h2m11 0h2m1 0h2m1 0h7m3 0h2m1 0h5m2 0h7m1 0h5m9 0h5m8 0h2m-133 1h2m16 0h7m10 0h2m3 0h2m10 0h2m3 0h5m1 0h4m6 0h2m1 0h7m1 0h2m1 0h22m9 0h5m8 0h2m-148 1h2m13 0h2m13 0h2m1 0h5m1 0h4m1 0h4m1 0h2m1 0h2m1 0h5m1 0h4m1 0h3m5 0h8m1 0h2m3 0h2m2 0h29m1 0h2m18 0h2m-144 1h2m28 0h2m3 0h3m1 0h12m1 0h2m1 0h13m4 0h15m1 0h32m2 0h2m4 0h4m10 0h2m-137 1h2m9 0h2m6 0h2m2 0h21m4 0h9m1 0h3m1 0h2m1 0h51m2 0h7m11 0h2m-138 1h2m7 0h4m3 0h2m1 0h2m2 0h6m2 0h8m1 0h25m1 0h7m1 0h42m2 0h6m12 0h2m-146 1h2m15 0h2m4 0h4m1 0h2m2 0h5m1 0h29m1 0h7m1 0h48m5 0h2m-131 1h2m3 0h2m8 0h106m1 0h2m2 0h5m32 0h2m-168 1h2m6 0h4m2 0h2m2 0h80m1 0h26m4 0h5m4 0h2m26 0h2m-168 1h2m8 0h115m4 0h5m4 0h2m12 0h2m-165 1h2m21 0h58m2 0h18m1 0h36m2 0h2m1 0h4m16 0h2m-165 1h2m20 0h9m1 0h49m2 0h21m3 0h31m3 0h6m38 0h2m-166 1h11m1 0h20m4 0h24m1 0h24m1 0h17m1 0h12m4 0h3m2 0h2m1 0h2m34 0h2m-177 1h2m9 0h34m1 0h35m1 0h7m1 0h37m1 0h4m4 0h2m1 0h2m3 0h2m-146 1h2m8 0h24m1 0h46m2 0h7m2 0h13m1 0h21m1 0h4m5 0h3m4 0h2m-136 1h2m1 0h2m1 0h50m1 0h3m1 0h11m1 0h7m2 0h35m4 0h2m4 0h3m4 0h2m30 0h2m-170 1h2m6 0h28m1 0h32m2 0h12m1 0h35m4 0h2m4 0h3m1 0h2m33 0h2m2 0h2m-174 1h2m2 0h2m1 0h2m2 0h3m2 0h20m1 0h6m1 0h75m3 0h2m9 0h2m37 0h2m-170 1h2m1 0h2m3 0h2m2 0h48m1 0h10m1 0h11m1 0h31m2 0h3m-114 1h2m4 0h3m1 0h86m1 0h8m1 0h3m2 0h2m-113 1h2m4 0h3m1 0h47m1 0h22m2 0h9m1 0h13m2 0h2m2 0h2m-106 1h2m2 0h46m1 0h6m2 0h2m3 0h2m1 0h6m2 0h12m1 0h10m1 0h3m22 0h2m44 0h2m-169 1h10m1 0h45m1 0h2m2 0h8m3 0h6m3 0h2m2 0h2m1 0h3m2 0h2m1 0h2m16 0h2m5 0h2m44 0h2m-169 1h2m1 0h7m1 0h34m1 0h3m1 0h2m2 0h2m1 0h2m1 0h6m1 0h3m2 0h6m6 0h2m2 0h3m10 0h2m5 0h2m4 0h2m5 0h2m-119 1h5m1 0h13m5 0h12m7 0h4m9 0h2m6 0h2m7 0h2m5 0h2m3 0h2m10 0h2m5 0h2m-106 1h2m4 0h5m1 0h7m3 0h14m2 0h2m3 0h4m9 0h2m15 0h2m6 0h2m-75 1h2m2 0h2m1 0h5m2 0h2m2 0h2m10 0h2m16 0h2m2 0h2m19 0h2m45 0h2m-118 1h2m1 0h2m1 0h2m40 0h2m21 0h2m43 0h2m-47 1h2"/><path d="M169 471.5h2m-2 1h2m1 2h2m13 0h2m-17 1h2m13 0h2m-10 5h2m-2 1h2m-20 1h2m-2 1h2m20 0h2m-2 1h2m-26 1h2m-2 1h2m36 0h2m-2 1h2m-10 7h2m-2 1h2m-5 1h2m-34 1h2m30 0h2m10 0h2m-46 1h2m23 0h2m17 0h2m-21 1h2m16 1h2m-2 1h2m-32 3h2m-2 1h2m5 0h2m-2 1h2m78 1h2m-2 1h2m-101 4h2m-2 1h2m93 0h2m1 0h2m-5 1h2m1 0h2m-8 5h2m-3 1h3m-67 1h2m62 0h2m-92 1h2m17 0h2m5 0h2m72 0h2m-102 1h2m17 0h2m13 0h2m64 0h2m-68 1h2m62 0h2m-2 1h2m-3 1h2m-60 1h2m56 0h2m-101 1h2m39 0h2m61 0h2m-106 1h2m102 0h2m-74 1h2m-18 1h2m14 0h2m-18 1h2m72 1h2m-54 1h2m50 0h2m-54 1h2m28 1h2m-2 1h2m-22 1h2m-28 1h2m8 0h2m14 0h2m-28 1h2m6 0h4m2 0h3m4 0h2m3 0h2m2 0h2m-24 1h2m4 0h5m2 0h2m7 0h2m17 0h2m8 0h2m-53 1h2m4 0h2m1 0h2m30 0h2m8 0h2m-47 1h2m69 0h2m-56 1h2m52 0h2m-78 1h2m12 0h2m6 0h2m21 0h2m6 0h2m-55 1h2m10 0h4m29 0h2m6 0h2m-43 1h2m1 0h2m-22 1h2m18 0h2m6 0h2m-51 1h2m19 0h2m26 0h3m2 0h2m-56 1h2m48 0h6m52 0h2m-60 1h4m5 0h2m2 0h2m10 0h2m31 0h2m-107 1h2m21 0h2m14 0h2m6 0h4m3 0h4m2 0h2m10 0h2m12 0h2m-91 1h2m1 0h2m12 0h2m1 0h2m4 0h2m2 0h2m6 0h2m2 0h3m4 0h2m5 0h3m21 0h2m7 0h6m-95 1h2m2 0h2m11 0h2m1 0h2m1 0h2m1 0h2m2 0h2m6 0h2m3 0h4m2 0h2m5 0h3m11 0h2m8 0h3m8 0h4m6 0h2m-104 1h2m3 0h2m10 0h2m2 0h2m1 0h2m16 0h2m2 0h2m11 0h2m7 0h2m1 0h3m5 0h5m18 0h2m-104 1h2m15 0h2m2 0h2m19 0h2m15 0h4m1 0h2m2 0h2m2 0h2m5 0h2m5 0h2m7 0h2m-80 1h2m2 0h2m2 0h2m9 0h2m4 0h2m15 0h4m1 0h2m2 0h2m6 0h2m8 0h2m7 0h2m3 0h2m-83 1h2m4 0h2m6 0h2m1 0h2m16 0h3m2 0h4m2 0h2m1 0h2m6 0h2m8 0h2m12 0h2m-101 1h2m16 0h2m4 0h2m5 0h5m14 0h6m4 0h3m1 0h2m4 0h4m4 0h2m7 0h2m8 0h2m-99 1h2m9 0h2m11 0h2m3 0h4m1 0h2m8 0h3m3 0h3m8 0h2m7 0h4m4 0h2m7 0h2m8 0h2m-99 1h2m9 0h2m14 0h5m12 0h3m1 0h4m2 0h2m5 0h2m1 0h2m5 0h2m1 0h2m23 0h2m-115 1h2m12 0h2m12 0h2m11 0h2m1 0h2m7 0h2m3 0h6m4 0h3m4 0h2m1 0h2m5 0h5m15 0h4m3 0h3m-115 1h2m23 0h2m1 0h2m1 0h2m11 0h2m3 0h8m2 0h4m2 0h6m8 0h2m5 0h4m15 0h4m3 0h2m6 0h2m-97 1h2m4 0h2m3 0h2m6 0h2m3 0h4m2 0h2m2 0h4m2 0h4m5 0h2m1 0h4m1 0h3m3 0h2m8 0h2m12 0h5m3 0h2m-107 1h2m5 0h2m12 0h2m9 0h2m7 0h2m16 0h2m1 0h2m3 0h3m4 0h2m1 0h2m4 0h2m12 0h5m7 0h2m-118 1h2m5 0h2m5 0h2m3 0h2m10 0h3m5 0h2m7 0h2m10 0h2m3 0h2m2 0h3m3 0h2m4 0h2m1 0h2m2 0h2m9 0h4m6 0h2m5 0h2m-118 1h2m1 0h4m7 0h2m3 0h2m10 0h3m14 0h2m3 0h2m3 0h6m1 0h2m1 0h4m3 0h6m7 0h2m9 0h4m6 0h2m-108 1h4m12 0h3m12 0h3m8 0h2m1 0h2m3 0h3m1 0h9m2 0h2m3 0h8m6 0h2m3 0h2m10 0h2m1 0h2m-105 1h2m9 0h2m1 0h4m12 0h5m6 0h3m5 0h13m2 0h2m3 0h4m8 0h4m3 0h2m6 0h2m2 0h2m1 0h2m3 0h2m-110 1h2m5 0h3m1 0h5m16 0h3m5 0h6m6 0h14m1 0h4m3 0h2m4 0h3m5 0h2m3 0h5m6 0h2m2 0h2m-103 1h3m3 0h2m2 0h2m13 0h2m3 0h2m1 0h2m2 0h3m5 0h8m1 0h15m4 0h2m4 0h2m1 0h8m5 0h4m-99 1h2m8 0h2m3 0h2m1 0h2m1 0h3m4 0h4m6 0h4m2 0h12m1 0h10m12 0h2m1 0h4m9 0h2m-97 1h2m13 0h2m1 0h2m1 0h3m2 0h5m1 0h2m2 0h7m1 0h17m1 0h2m5 0h3m7 0h2m17 0h2m-95 1h2m19 0h5m1 0h6m1 0h28m2 0h3m7 0h2m1 0h2m9 0h2m2 0h3m-95 1h2m7 0h2m2 0h2m5 0h6m2 0h6m1 0h17m1 0h10m1 0h5m4 0h2m2 0h2m9 0h2m1 0h3m-96 1h2m2 0h2m5 0h2m2 0h3m4 0h6m1 0h26m1 0h5m1 0h9m4 0h3m3 0h2m7 0h2m1 0h2m-100 1h2m3 0h2m2 0h2m5 0h2m2 0h13m1 0h41m5 0h3m2 0h4m6 0h5m2 0h2m-104 1h2m5 0h2m7 0h2m1 0h3m1 0h4m7 0h35m1 0h6m1 0h2m1 0h2m3 0h4m7 0h2m2 0h4m4 0h2m-124 1h2m19 0h2m10 0h2m3 0h2m7 0h46m4 0h2m4 0h2m5 0h2m2 0h5m3 0h2m-124 1h4m11 0h2m4 0h2m12 0h5m2 0h4m1 0h46m4 0h2m4 0h2m10 0h4m1 0h3m3 0h2m-126 1h2m5 0h2m4 0h2m3 0h2m2 0h4m5 0h5m1 0h2m1 0h4m1 0h2m1 0h27m1 0h15m7 0h2m10 0h2m6 0h3m3 0h2m-128 1h2m3 0h2m2 0h2m6 0h2m1 0h2m2 0h5m4 0h2m1 0h2m1 0h2m1 0h35m1 0h19m2 0h3m10 0h2m7 0h2m-123 1h2m3 0h2m8 0h4m8 0h2m1 0h2m10 0h55m2 0h2m4 0h4m12 0h2m-123 1h2m13 0h2m13 0h4m1 0h4m2 0h2m1 0h4m1 0h19m1 0h4m1 0h23m6 0h6m9 0h2m-120 1h2m11 0h2m12 0h2m2 0h3m1 0h4m2 0h2m1 0h5m1 0h47m6 0h7m6 0h4m1 0h2m-127 1h2m14 0h3m12 0h2m3 0h2m5 0h10m1 0h46m3 0h2m4 0h5m2 0h2m1 0h3m3 0h2m-129 1h4m11 0h2m1 0h2m3 0h2m16 0h2m1 0h58m3 0h2m4 0h4m3 0h2m1 0h2m-123 1h2m2 0h2m1 0h2m6 0h2m6 0h4m3 0h2m8 0h3m1 0h56m4 0h4m2 0h5m-111 1h2m1 0h2m14 0h6m1 0h2m4 0h64m4 0h4m2 0h5m5 0h2m-116 1h5m12 0h2m2 0h2m7 0h33m1 0h6m1 0h23m10 0h3m2 0h2m3 0h2m-117 1h6m25 0h2m1 0h30m1 0h34m6 0h3m2 0h2m5 0h2m1 0h2m3 0h2m-127 1h2m27 0h73m7 0h2m3 0h2m1 0h2m1 0h2m3 0h2m-129 1h2m8 0h2m5 0h2m4 0h2m6 0h10m1 0h28m1 0h27m2 0h4m1 0h2m4 0h2m3 0h2m-118 1h2m8 0h2m5 0h3m2 0h3m3 0h72m2 0h2m1 0h2m5 0h4m-98 1h6m4 0h72m1 0h2m2 0h2m5 0h4m14 0h2m-112 1h2m4 0h11m2 0h58m1 0h2m1 0h2m2 0h6m3 0h2m4 0h2m8 0h2m-116 1h2m2 0h2m1 0h16m1 0h37m1 0h18m3 0h3m2 0h2m1 0h6m1 0h4m2 0h2m-106 1h4m3 0h52m1 0h21m1 0h4m2 0h2m1 0h6m1 0h4m-110 1h2m6 0h5m1 0h39m1 0h13m1 0h24m7 0h6m-105 1h2m4 0h45m1 0h20m1 0h8m2 0h2m2 0h4m5 0h2m5 0h4m7 0h2m-118 1h2m1 0h4m1 0h12m1 0h19m1 0h12m1 0h17m1 0h15m2 0h4m3 0h4m1 0h8m7 0h2m-121 1h5m1 0h4m1 0h17m1 0h14m1 0h20m3 0h24m1 0h6m1 0h4m1 0h6m-111 1h6m1 0h22m2 0h7m1 0h4m1 0h14m1 0h5m1 0h3m2 0h25m2 0h2m3 0h3m2 0h2m15 0h2m-129 1h2m1 0h8m1 0h44m1 0h39m3 0h3m4 0h2m2 0h2m7 0h2m6 0h2m-129 1h53m1 0h3m1 0h44m3 0h2m3 0h2m7 0h2m-120 1h3m4 0h40m1 0h51m5 0h2m2 0h2m-109 1h2m3 0h3m1 0h13m1 0h14m1 0h2m2 0h33m1 0h2m1 0h10m1 0h4m1 0h2m8 0h4m5 0h2m-111 1h16m1 0h7m1 0h35m1 0h10m3 0h6m1 0h3m3 0h6m7 0h3m6 0h2m-111 1h23m1 0h49m2 0h3m1 0h4m4 0h6m8 0h2m-103 1h4m1 0h5m2 0h9m3 0h18m1 0h15m1 0h14m2 0h2m2 0h4m1 0h2m-85 1h3m1 0h8m2 0h16m1 0h26m1 0h11m1 0h3m10 0h4m-81 1h17m2 0h2m1 0h3m3 0h8m1 0h6m2 0h5m1 0h8m6 0h2m12 0h2m-81 1h2m1 0h5m2 0h3m2 0h3m1 0h6m1 0h4m2 0h4m2 0h4m3 0h2m4 0h4m4 0h3m-62 1h7m3 0h4m2 0h6m4 0h13m1 0h2m17 0h3m17 0h2m1 0h2m7 0h2m4 0h2m-97 1h2m1 0h3m2 0h6m1 0h4m1 0h2m5 0h13m37 0h2m1 0h2m7 0h2m4 0h2m-107 1h2m11 0h3m4 0h4m2 0h3m1 0h14m3 0h2m-49 1h2m4 0h2m12 0h2m3 0h6m1 0h6m2 0h5m1 0h3m1 0h2m8 0h4m-58 1h2m6 0h2m9 0h3m1 0h2m1 0h5m5 0h10m8 0h4m-50 1h2m10 0h2m4 0h5m5 0h13m5 0h2m-53 1h2m18 0h2m2 0h4m5 0h7m2 0h4m7 0h2m3 0h2m-60 1h2m18 0h2m2 0h6m3 0h3m1 0h2m1 0h2m2 0h2m7 0h2m3 0h2m-32 1h2m3 0h6m1 0h2m1 0h2m-16 1h2m3 0h5m1 0h7m-18 1h2m3 0h5m1 0h3m2 0h2m-25 1h2m8 0h2m1 0h4m12 0h2m-31 1h2m8 0h4m2 0h2m3 0h2m1 0h2m3 0h2m-19 1h2m2 0h4m1 0h2m1 0h2m-10 1h4"/><path d="M532 519.5h2m-2 1h2m9 3h2m-2 1h2m-17 3h2m-2 1h2m-2 2h2m-2 1h2m-11 1h2m-2 1h2m6 2h2m-2 1h2m15 0h2m-2 1h2m-29 2h2m29 0h2m-33 1h2m2 0h2m24 0h3m-29 1h2m15 0h2m7 0h2m-11 1h2m-18 1h2m20 0h2m-24 1h2m20 0h2m-11 1h2m-6 1h3m1 0h2m-6 1h3m17 0h2m-21 1h2m6 0h2m1 0h2m6 0h2m7 0h2m-59 1h2m27 0h2m2 0h3m1 0h2m1 0h2m11 0h2m2 0h2m-59 1h2m21 0h2m8 0h3m17 0h2m-32 1h2m9 0h2m9 0h2m-27 1h2m8 0h2m1 0h2m10 0h2m-27 1h2m8 0h2m1 0h3m19 0h2m-50 1h2m22 0h2m1 0h2m1 0h2m1 0h2m6 0h2m5 0h2m-50 1h2m22 0h2m4 0h2m1 0h2m6 0h2m-26 1h2m5 0h2m3 0h2m-23 1h2m7 0h2m5 0h3m2 0h2m8 0h2m7 0h2m-42 1h2m14 0h3m4 0h3m5 0h2m6 0h3m2 0h2m19 0h2m-82 1h2m20 0h2m12 0h5m13 0h3m2 0h2m19 0h2m-82 1h2m12 0h2m1 0h2m3 0h2m10 0h4m24 0h2m15 0h2m-79 1h2m8 0h4m1 0h2m13 0h5m3 0h4m2 0h2m1 0h2m8 0h2m1 0h2m15 0h2m-79 1h2m8 0h2m7 0h2m9 0h2m1 0h3m2 0h4m2 0h5m8 0h2m2 0h2m24 0h2m-70 1h2m8 0h2m2 0h3m2 0h11m3 0h2m3 0h2m2 0h2m5 0h2m17 0h2m-82 1h2m16 0h7m1 0h2m3 0h8m1 0h2m1 0h4m3 0h2m9 0h2m-63 1h2m16 0h7m7 0h9m1 0h4m4 0h2m-45 1h3m4 0h2m7 0h2m10 0h6m1 0h4m4 0h2m5 0h2m12 0h2m-66 1h3m4 0h2m3 0h2m4 0h2m2 0h3m9 0h5m7 0h6m9 0h2m1 0h2m-65 1h2m9 0h2m1 0h5m2 0h3m7 0h9m5 0h5m7 0h5m-66 1h2m2 0h3m3 0h2m6 0h5m2 0h2m3 0h2m3 0h5m1 0h3m2 0h2m1 0h2m4 0h3m3 0h4m6 0h2m-73 1h3m2 0h2m3 0h4m3 0h9m4 0h2m3 0h5m6 0h2m1 0h5m1 0h5m8 0h2m1 0h2m-72 1h2m4 0h7m1 0h4m4 0h3m3 0h4m1 0h6m1 0h2m1 0h10m3 0h3m8 0h2m-72 1h3m4 0h7m1 0h5m2 0h2m4 0h7m1 0h3m1 0h5m1 0h2m2 0h2m1 0h2m6 0h2m5 0h2m1 0h2m-77 1h2m2 0h3m4 0h2m1 0h2m1 0h32m8 0h2m3 0h2m1 0h2m5 0h2m1 0h2m-77 1h2m1 0h2m12 0h4m3 0h27m4 0h5m2 0h3m2 0h2m1 0h2m-70 1h3m4 0h10m1 0h2m3 0h36m2 0h2m2 0h2m1 0h2m4 0h2m-76 1h2m5 0h10m1 0h2m2 0h34m1 0h6m6 0h2m3 0h2m13 0h2m-85 1h2m1 0h5m1 0h5m1 0h37m1 0h5m3 0h4m18 0h2m-85 1h2m1 0h5m1 0h27m1 0h9m1 0h11m1 0h4m1 0h2m-68 1h10m1 0h47m2 0h3m3 0h4m4 0h2m-89 1h2m6 0h2m3 0h6m1 0h3m1 0h53m1 0h2m1 0h2m4 0h2m5 0h2m8 0h2m-106 1h2m6 0h2m3 0h2m2 0h44m1 0h15m1 0h2m1 0h2m4 0h2m5 0h2m8 0h2m-93 1h2m2 0h36m4 0h19m2 0h3m2 0h2m2 0h2m-80 1h4m3 0h6m1 0h27m2 0h2m1 0h21m1 0h4m2 0h2m3 0h2m4 0h2m-91 1h2m1 0h5m2 0h65m3 0h3m2 0h2m4 0h2m22 0h3m-116 1h2m1 0h2m5 0h5m2 0h26m1 0h33m2 0h4m8 0h2m1 0h2m17 0h3m-116 1h2m9 0h4m1 0h57m2 0h4m1 0h3m8 0h2m1 0h2m13 0h2m-111 1h2m6 0h2m1 0h15m1 0h46m1 0h6m29 0h2m12 0h2m-117 1h2m2 0h2m1 0h66m30 0h2m5 0h2m3 0h4m-115 1h57m1 0h6m2 0h3m30 0h2m5 0h2m5 0h2m-128 1h2m13 0h6m1 0h4m1 0h35m1 0h11m1 0h8m24 0h2m10 0h4m1 0h2m-126 1h2m6 0h2m2 0h2m1 0h18m1 0h27m1 0h21m19 0h2m3 0h2m12 0h5m-123 1h4m1 0h2m2 0h21m5 0h12m2 0h18m1 0h12m19 0h2m19 0h2m-122 1h4m1 0h2m1 0h59m1 0h13m34 0h2m5 0h2m-119 1h2m1 0h70m1 0h2m34 0h2m5 0h2m-122 1h2m4 0h67m1 0h2m1 0h2m40 0h2m-121 1h2m1 0h2m3 0h26m1 0h3m1 0h35m3 0h2m26 0h2m7 0h2m3 0h2m-122 1h2m2 0h2m3 0h26m1 0h19m1 0h22m1 0h2m25 0h2m7 0h4m3 0h2m-124 1h2m4 0h2m1 0h16m1 0h24m1 0h12m1 0h14m1 0h4m12 0h2m15 0h2m3 0h2m3 0h4m-125 1h2m1 0h6m1 0h14m1 0h6m1 0h46m2 0h2m12 0h2m15 0h3m9 0h2m-125 1h2m1 0h2m2 0h2m2 0h12m2 0h43m1 0h4m1 0h4m34 0h2m-111 1h2m2 0h44m1 0h7m1 0h2m2 0h4m1 0h2m3 0h4m27 0h2m-104 1h2m2 0h5m1 0h7m2 0h45m2 0h2m3 0h4m27 0h2m-107 1h3m3 0h14m2 0h24m1 0h2m1 0h2m1 0h11m1 0h2m2 0h2m5 0h4m-80 1h3m3 0h2m4 0h40m2 0h4m1 0h3m2 0h5m9 0h2m-79 1h2m8 0h41m2 0h7m3 0h5m-68 1h2m3 0h2m3 0h27m1 0h14m1 0h5m5 0h2m-60 1h2m5 0h2m1 0h9m1 0h21m2 0h4m1 0h2m-39 1h2m1 0h13m1 0h10m1 0h2m-44 1h2m3 0h2m9 0h14m1 0h2m1 0h2m1 0h5m-42 1h2m3 0h2m9 0h2m1 0h2m1 0h2m4 0h2m1 0h2m1 0h4m2 0h2m-6 1h2m-19 2h2m4 0h2m-8 1h2m4 0h2"/></g>
<path d="M64.5 38.5V188.5M58.5 188.50H64.5M58.5 158.50H64.5M58.5 128.50H64.5M58.5 98.50H64.5M58.5 68.50H64.5M58.5 38.50H64.5M101.50 192.5H310.40M101.50 192.5V198.5M143.28 192.5V198.5M185.06 192.5V198.5M226.84 192.5V198.5M268.62 192.5V198.5M310.40 192.5V198.5M64.5 263.8V413.8M58.5 413.80H64.5M58.5 383.80H64.5M58.5 353.80H64.5M58.5 323.80H64.5M58.5 293.80H64.5M58.5 263.80H64.5M101.50 417.7H310.40M101.50 417.7V423.7M143.28 417.7V423.7M185.06 417.7V423.7M226.84 417.7V423.7M268.62 417.7V423.7M310.40 417.7V423.7M64.5 489.1V639.1M58.5 639.10H64.5M58.5 609.10H64.5M58.5 579.10H64.5M58.5 549.10H64.5M58.5 519.10H64.5M58.5 489.10H64.5M101.50 643.2H310.40M101.50 643.2V649.2M143.28 643.2V649.2M185.06 643.2V649.2M226.84 643.2V649.2M268.62 643.2V649.2M310.40 643.2V649.2M395.0 38.5V188.5M389.0 188.50H395.0M389.0 158.50H395.0M389.0 128.50H395.0M389.0 98.50H395.0M389.0 68.50H395.0M389.0 38.50H395.0M432.00 192.5H640.90M432.00 192.5V198.5M473.78 192.5V198.5M515.56 192.5V198.5M557.34 192.5V198.5M599.12 192.5V198.5M640.90 192.5V198.5M395.0 263.8V413.8M389.0 413.80H395.0M389.0 383.80H395.0M389.0 353.80H395.0M389.0 323.80H395.0M389.0 293.80H395.0M389.0 263.80H395.0M432.00 417.7H640.90M432.00 417.7V423.7M473.78 417.7V423.7M515.56 417.7V423.7M557.34 417.7V423.7M599.12 417.7V423.7M640.90 417.7V423.7M395.0 489.1V639.1M389.0 639.10H395.0M389.0 609.10H395.0M389.0 579.10H395.0M389.0 549.10H395.0M389.0 519.10H395.0M389.0 489.10H395.0M432.00 643.2H640.90M432.00 643.2V649.2M473.78 643.2V649.2M515.56 643.2V649.2M557.34 643.2V649.2M599.12 643.2V649.2M640.90 643.2V649.2" stroke="#111" stroke-width="1.1" fill="none" stroke-linecap="square"/>
<text x="49.3" y="193.90" font-size="13.5" text-anchor="end">0</text>
<text x="49.3" y="163.90" font-size="13.5" text-anchor="end">500</text>
<text x="49.3" y="133.90" font-size="13.5" text-anchor="end">1000</text>
<text x="49.3" y="103.90" font-size="13.5" text-anchor="end">1500</text>
<text x="49.3" y="73.90" font-size="13.5" text-anchor="end">2000</text>
<text x="49.3" y="43.90" font-size="13.5" text-anchor="end">2500</text>
<text x="49.3" y="419.20" font-size="13.5" text-anchor="end">0</text>
<text x="49.3" y="389.20" font-size="13.5" text-anchor="end">500</text>
<text x="49.3" y="359.20" font-size="13.5" text-anchor="end">1000</text>
<text x="49.3" y="329.20" font-size="13.5" text-anchor="end">1500</text>
<text x="49.3" y="299.20" font-size="13.5" text-anchor="end">2000</text>
<text x="49.3" y="269.20" font-size="13.5" text-anchor="end">2500</text>
<text x="49.3" y="644.50" font-size="13.5" text-anchor="end">0</text>
<text x="49.3" y="614.50" font-size="13.5" text-anchor="end">500</text>
<text x="49.3" y="584.50" font-size="13.5" text-anchor="end">1000</text>
<text x="49.3" y="554.50" font-size="13.5" text-anchor="end">1500</text>
<text x="49.3" y="524.50" font-size="13.5" text-anchor="end">2000</text>
<text x="49.3" y="494.50" font-size="13.5" text-anchor="end">2500</text>
<text x="101.50" y="671.3" font-size="13.5" text-anchor="middle">-5</text>
<text x="143.28" y="671.3" font-size="13.5" text-anchor="middle">0</text>
<text x="185.06" y="671.3" font-size="13.5" text-anchor="middle">5</text>
<text x="226.84" y="671.3" font-size="13.5" text-anchor="middle">10</text>
<text x="268.62" y="671.3" font-size="13.5" text-anchor="middle">15</text>
<text x="310.40" y="671.3" font-size="13.5" text-anchor="middle">20</text>
<text x="432.00" y="671.3" font-size="13.5" text-anchor="middle">-5</text>
<text x="473.78" y="671.3" font-size="13.5" text-anchor="middle">0</text>
<text x="515.56" y="671.3" font-size="13.5" text-anchor="middle">5</text>
<text x="557.34" y="671.3" font-size="13.5" text-anchor="middle">10</text>
<text x="599.12" y="671.3" font-size="13.5" text-anchor="middle">15</text>
<text x="640.90" y="671.3" font-size="13.5" text-anchor="middle">20</text>
<text x="64.60" y="12.00" font-size="15.7" font-style="italic">a) P. uncinata</text>
<text x="395.80" y="12.00" font-size="15.7" font-style="italic">b) A. alba</text>
<text x="64.60" y="237.30" font-size="15.7" font-style="italic">c) F. sylvatica</text>
<text x="395.80" y="237.30" font-size="15.7" font-style="italic">d) P. sylvestris</text>
<text x="64.60" y="462.60" font-size="15.7" font-style="italic">e) Q. robur</text>
<text x="395.80" y="462.60" font-size="15.7" font-style="italic">f) Q. petraea</text>
<text x="209" y="701.7" font-size="19.6">Mean annual temperature (<tspan font-size="14" dy="-7.2">o</tspan><tspan dy="7.2">C)</tspan></text>
<text transform="translate(15.3,466.4) rotate(-90)" x="0" y="0" font-size="19.65">Mean annual precipitation (mm)</text>
<path d="M265.20 39.40H273.80L269.50 46.00Z" fill="#0000ff" stroke="#000" stroke-width="1.1" stroke-linejoin="miter"/><circle cx="269.2" cy="59.4" r="3.3" fill="#000"/><rect x="266.60" y="74.80" width="5.4" height="5.4" fill="#b22222" stroke="#000" stroke-width="1.1"/><text x="282.3" y="43.8" font-size="13">northern</text><text x="282.3" y="61.3" font-size="13">intermediate</text><text x="282.3" y="79.6" font-size="13">southern</text>
<path d="M176.90 111.90H191.70L184.30 124.50Z" fill="#0000ff" stroke="#000" stroke-width="1.1" stroke-linejoin="miter"/><circle cx="216.0" cy="149.0" r="6.1" fill="#000"/><rect x="209.20" y="143.40" width="10.0" height="10.0" fill="#b22222" stroke="#000" stroke-width="1.1"/><path d="M509.70 113.25H524.50L517.10 125.85Z" fill="#0000ff" stroke="#000" stroke-width="1.1" stroke-linejoin="miter"/><circle cx="494.0" cy="109.0" r="6.1" fill="#000"/><rect x="545.70" y="140.50" width="10.0" height="10.0" fill="#b22222" stroke="#000" stroke-width="1.1"/><path d="M159.20 332.60H174.00L166.60 345.20Z" fill="#0000ff" stroke="#000" stroke-width="1.1" stroke-linejoin="miter"/><circle cx="220.0" cy="370.5" r="6.1" fill="#000"/><rect x="215.90" y="368.70" width="10.0" height="10.0" fill="#b22222" stroke="#000" stroke-width="1.1"/><path d="M528.60 349.10H543.40L536.00 361.70Z" fill="#0000ff" stroke="#000" stroke-width="1.1" stroke-linejoin="miter"/><circle cx="550.8" cy="370.0" r="6.1" fill="#000"/><rect x="543.20" y="374.50" width="10.0" height="10.0" fill="#b22222" stroke="#000" stroke-width="1.1"/><path d="M226.80 579.50H241.60L234.20 592.10Z" fill="#0000ff" stroke="#000" stroke-width="1.1" stroke-linejoin="miter"/><circle cx="232.8" cy="588.0" r="6.1" fill="#000"/><rect x="216.00" y="597.70" width="10.0" height="10.0" fill="#b22222" stroke="#000" stroke-width="1.1"/><path d="M532.60 590.00H547.40L540.00 602.60Z" fill="#0000ff" stroke="#000" stroke-width="1.1" stroke-linejoin="miter"/><circle cx="575.0" cy="614.9" r="6.1" fill="#000"/><rect x="539.00" y="597.20" width="10.0" height="10.0" fill="#b22222" stroke="#000" stroke-width="1.1"/>
</svg></body></html>
